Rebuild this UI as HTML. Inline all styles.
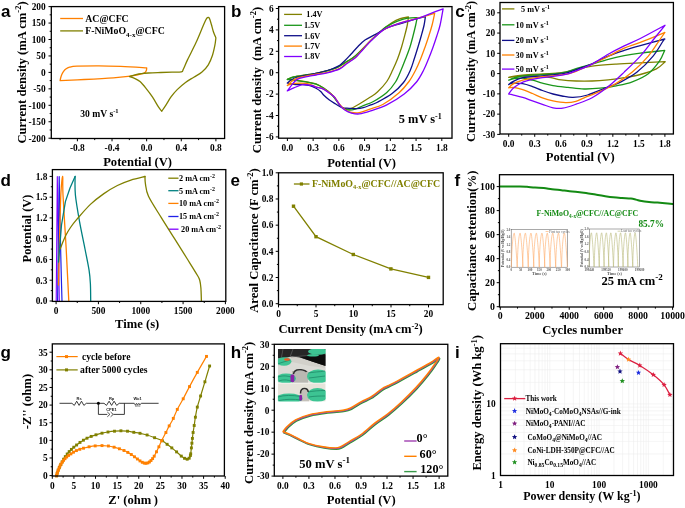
<!DOCTYPE html>
<html><head><meta charset="utf-8"><style>
html,body{margin:0;padding:0;background:#fff;}
svg{display:block;will-change:transform;}
</style></head><body>
<svg width="685" height="508" viewBox="0 0 685 508">
<rect width="685" height="508" fill="#fff"/>
<text x="0.90" y="16.60" font-size="17" text-anchor="start" font-weight="bold" font-family='"Liberation Sans", sans-serif' fill="#000" >a</text>
<path d="M77.40,138.5 v2.8 M112.03,138.5 v2.8 M146.65,138.5 v2.8 M181.28,138.5 v2.8 M215.90,138.5 v2.8 M60.09,138.5 v1.6 M94.71,138.5 v1.6 M129.34,138.5 v1.6 M163.96,138.5 v1.6 M198.59,138.5 v1.6 " stroke="#000" stroke-width="1"/>
<text x="77.40" y="151.20" font-size="9.4" text-anchor="middle" font-weight="bold" font-family='"Liberation Serif", serif' fill="#000" >-0.8</text>
<text x="112.03" y="151.20" font-size="9.4" text-anchor="middle" font-weight="bold" font-family='"Liberation Serif", serif' fill="#000" >-0.4</text>
<text x="146.65" y="151.20" font-size="9.4" text-anchor="middle" font-weight="bold" font-family='"Liberation Serif", serif' fill="#000" >0.0</text>
<text x="181.28" y="151.20" font-size="9.4" text-anchor="middle" font-weight="bold" font-family='"Liberation Serif", serif' fill="#000" >0.4</text>
<text x="215.90" y="151.20" font-size="9.4" text-anchor="middle" font-weight="bold" font-family='"Liberation Serif", serif' fill="#000" >0.8</text>
<path d="M51.3,138.20 h-2.8 M51.3,121.75 h-2.8 M51.3,105.30 h-2.8 M51.3,88.85 h-2.8 M51.3,72.40 h-2.8 M51.3,55.95 h-2.8 M51.3,39.50 h-2.8 M51.3,23.05 h-2.8 M51.3,6.60 h-2.8 M51.3,129.97 h-1.6 M51.3,113.52 h-1.6 M51.3,97.07 h-1.6 M51.3,80.62 h-1.6 M51.3,64.17 h-1.6 M51.3,47.73 h-1.6 M51.3,31.27 h-1.6 M51.3,14.82 h-1.6 " stroke="#000" stroke-width="1"/>
<text x="45.70" y="141.50" font-size="9.4" text-anchor="end" font-weight="bold" font-family='"Liberation Serif", serif' fill="#000" >-200</text>
<text x="45.70" y="125.05" font-size="9.4" text-anchor="end" font-weight="bold" font-family='"Liberation Serif", serif' fill="#000" >-150</text>
<text x="45.70" y="108.60" font-size="9.4" text-anchor="end" font-weight="bold" font-family='"Liberation Serif", serif' fill="#000" >-100</text>
<text x="45.70" y="92.15" font-size="9.4" text-anchor="end" font-weight="bold" font-family='"Liberation Serif", serif' fill="#000" >-50</text>
<text x="45.70" y="75.70" font-size="9.4" text-anchor="end" font-weight="bold" font-family='"Liberation Serif", serif' fill="#000" >0</text>
<text x="45.70" y="59.25" font-size="9.4" text-anchor="end" font-weight="bold" font-family='"Liberation Serif", serif' fill="#000" >50</text>
<text x="45.70" y="42.80" font-size="9.4" text-anchor="end" font-weight="bold" font-family='"Liberation Serif", serif' fill="#000" >100</text>
<text x="45.70" y="26.35" font-size="9.4" text-anchor="end" font-weight="bold" font-family='"Liberation Serif", serif' fill="#000" >150</text>
<text x="45.70" y="9.90" font-size="9.4" text-anchor="end" font-weight="bold" font-family='"Liberation Serif", serif' fill="#000" >200</text>
<text transform="translate(26.00,72.50) rotate(-90)" x="0" y="0" font-size="12.6" text-anchor="middle" font-weight="bold" font-family='"Liberation Serif", serif'>Current density (mA cm<tspan dy="-4.8" font-size="8.5">-2</tspan><tspan dy="4.8">)</tspan></text>
<text x="137.60" y="165.50" font-size="12.6" text-anchor="middle" font-weight="bold" font-family='"Liberation Serif", serif' fill="#000" >Potential (V)</text>
<path d="M60.2,18.5 H83" stroke="#ff8000" stroke-width="1.3"/>
<path d="M60.2,30.9 H83" stroke="#808000" stroke-width="1.3"/>
<text x="85.30" y="22.00" font-size="9.8" text-anchor="start" font-weight="bold" font-family='"Liberation Serif", serif' fill="#000" >AC@CFC</text>
<text x="85.30" y="34.30" font-size="9.8" text-anchor="start" font-weight="bold" font-family='"Liberation Serif", serif' fill="#000" >F-NiMoO<tspan dy="2.5" font-size="7">4-x</tspan><tspan dy="-2.5">@CFC</tspan></text>
<text x="80.30" y="116.50" font-size="9.6" text-anchor="start" font-weight="bold" font-family='"Liberation Serif", serif' fill="#000" >30 mV s<tspan dy="-3.5" font-size="6.5">-1</tspan></text>
<path d="M60.10,80.60 C60.20,80.13 60.42,78.80 60.70,77.80 C60.98,76.80 61.35,75.63 61.80,74.60 C62.25,73.57 62.73,72.53 63.40,71.60 C64.07,70.67 64.78,69.73 65.80,69.00 C66.82,68.27 67.65,67.67 69.50,67.20 C71.35,66.73 72.02,66.43 76.90,66.20 C81.78,65.97 91.50,65.77 98.80,65.80 C106.10,65.83 113.40,66.10 120.70,66.40 C128.00,66.70 138.27,67.33 142.60,67.60 C146.93,67.87 146.02,67.93 146.70,68.00 L146.70,68.00 C146.65,68.38 146.63,69.60 146.40,70.30 C146.17,71.00 145.95,71.63 145.30,72.20 C144.65,72.77 143.92,73.23 142.50,73.70 C141.08,74.17 139.22,74.55 136.80,75.00 C134.38,75.45 131.90,75.93 128.00,76.40 C124.10,76.87 120.70,77.28 113.40,77.80 C106.10,78.32 93.08,79.03 84.20,79.50 C75.32,79.97 64.12,80.42 60.10,80.60 " fill="none" stroke="#ff8000" stroke-width="1.3" stroke-linejoin="round" stroke-linecap="round" />
<path d="M129.50,76.60 C130.72,76.22 133.65,74.90 136.80,74.30 C139.95,73.70 144.42,73.30 148.40,73.00 C152.38,72.70 156.77,72.63 160.70,72.50 C164.63,72.37 168.55,72.32 172.00,72.20 C175.45,72.08 179.52,72.28 181.40,71.80 C183.28,71.32 182.27,71.33 183.30,69.30 C184.33,67.27 185.52,63.97 187.60,59.60 C189.68,55.23 193.40,48.27 195.80,43.10 C198.20,37.93 200.38,32.37 202.00,28.60 C203.62,24.83 204.60,22.33 205.50,20.50 C206.40,18.67 206.77,17.98 207.40,17.60 C208.03,17.22 208.63,17.05 209.30,18.20 C209.97,19.35 210.72,22.25 211.40,24.50 C212.08,26.75 212.65,29.47 213.40,31.70 C214.15,33.93 215.48,36.87 215.90,37.90 L215.90,37.90 C215.73,39.12 215.48,42.27 214.90,45.20 C214.32,48.13 213.50,52.23 212.40,55.50 C211.30,58.77 210.03,62.05 208.30,64.80 C206.57,67.55 204.42,69.93 202.00,72.00 C199.58,74.07 196.55,75.47 193.80,77.20 C191.05,78.93 188.27,80.33 185.50,82.40 C182.73,84.47 179.62,87.18 177.20,89.60 C174.78,92.02 172.88,94.32 171.00,96.90 C169.12,99.48 167.45,102.70 165.90,105.10 C164.35,107.50 162.40,110.27 161.70,111.30 L161.70,111.30 C161.18,110.62 160.15,109.60 158.60,107.20 C157.05,104.80 154.47,100.00 152.40,96.90 C150.33,93.80 148.27,91.15 146.20,88.60 C144.13,86.05 141.95,83.32 140.00,81.60 C138.05,79.88 136.25,79.13 134.50,78.30 C132.75,77.47 130.33,76.88 129.50,76.60 " fill="none" stroke="#808000" stroke-width="1.3" stroke-linejoin="round" stroke-linecap="round" />
<rect x="51.3" y="6.6" width="173.3" height="131.9" fill="none" stroke="#000" stroke-width="1.3"/>
<text x="231.00" y="16.60" font-size="17" text-anchor="start" font-weight="bold" font-family='"Liberation Sans", sans-serif' fill="#000" >b</text>
<path d="M287.40,138.2 v2.8 M313.13,138.2 v2.8 M338.87,138.2 v2.8 M364.60,138.2 v2.8 M390.33,138.2 v2.8 M416.07,138.2 v2.8 M441.80,138.2 v2.8 M300.27,138.2 v1.6 M326.00,138.2 v1.6 M351.73,138.2 v1.6 M377.47,138.2 v1.6 M403.20,138.2 v1.6 M428.93,138.2 v1.6 " stroke="#000" stroke-width="1"/>
<text x="287.40" y="151.20" font-size="9.4" text-anchor="middle" font-weight="bold" font-family='"Liberation Serif", serif' fill="#000" >0.0</text>
<text x="313.13" y="151.20" font-size="9.4" text-anchor="middle" font-weight="bold" font-family='"Liberation Serif", serif' fill="#000" >0.3</text>
<text x="338.87" y="151.20" font-size="9.4" text-anchor="middle" font-weight="bold" font-family='"Liberation Serif", serif' fill="#000" >0.6</text>
<text x="364.60" y="151.20" font-size="9.4" text-anchor="middle" font-weight="bold" font-family='"Liberation Serif", serif' fill="#000" >0.9</text>
<text x="390.33" y="151.20" font-size="9.4" text-anchor="middle" font-weight="bold" font-family='"Liberation Serif", serif' fill="#000" >1.2</text>
<text x="416.07" y="151.20" font-size="9.4" text-anchor="middle" font-weight="bold" font-family='"Liberation Serif", serif' fill="#000" >1.5</text>
<text x="441.80" y="151.20" font-size="9.4" text-anchor="middle" font-weight="bold" font-family='"Liberation Serif", serif' fill="#000" >1.8</text>
<path d="M278.6,136.90 h-2.8 M278.6,115.50 h-2.8 M278.6,94.10 h-2.8 M278.6,72.70 h-2.8 M278.6,51.30 h-2.8 M278.6,29.90 h-2.8 M278.6,8.50 h-2.8 M278.6,126.20 h-1.6 M278.6,104.80 h-1.6 M278.6,83.40 h-1.6 M278.6,62.00 h-1.6 M278.6,40.60 h-1.6 M278.6,19.20 h-1.6 " stroke="#000" stroke-width="1"/>
<text x="273.60" y="140.20" font-size="9.4" text-anchor="end" font-weight="bold" font-family='"Liberation Serif", serif' fill="#000" >-6</text>
<text x="273.60" y="118.80" font-size="9.4" text-anchor="end" font-weight="bold" font-family='"Liberation Serif", serif' fill="#000" >-4</text>
<text x="273.60" y="97.40" font-size="9.4" text-anchor="end" font-weight="bold" font-family='"Liberation Serif", serif' fill="#000" >-2</text>
<text x="273.60" y="76.00" font-size="9.4" text-anchor="end" font-weight="bold" font-family='"Liberation Serif", serif' fill="#000" >0</text>
<text x="273.60" y="54.60" font-size="9.4" text-anchor="end" font-weight="bold" font-family='"Liberation Serif", serif' fill="#000" >2</text>
<text x="273.60" y="33.20" font-size="9.4" text-anchor="end" font-weight="bold" font-family='"Liberation Serif", serif' fill="#000" >4</text>
<text x="273.60" y="11.80" font-size="9.4" text-anchor="end" font-weight="bold" font-family='"Liberation Serif", serif' fill="#000" >6</text>
<text transform="translate(260.60,80.00) rotate(-90)" x="0" y="0" font-size="12.7" text-anchor="middle" font-weight="bold" font-family='"Liberation Serif", serif'>Current density&#160; (mA cm<tspan dy="-4.8" font-size="8.5">-2</tspan><tspan dy="4.8">)</tspan></text>
<text x="361.60" y="167.20" font-size="12.6" text-anchor="middle" font-weight="bold" font-family='"Liberation Serif", serif' fill="#000" >Potential (V)</text>
<path d="M284.1,14.4 H302" stroke="#808000" stroke-width="1.3"/>
<text x="306.30" y="17.20" font-size="8.2" text-anchor="start" font-weight="bold" font-family='"Liberation Serif", serif' fill="#000" >1.4V</text>
<path d="M284.1,25.3 H302" stroke="#1a961a" stroke-width="1.3"/>
<text x="304.00" y="28.10" font-size="8.2" text-anchor="start" font-weight="bold" font-family='"Liberation Serif", serif' fill="#000" >1.5V</text>
<path d="M284.1,35.7 H302" stroke="#10108a" stroke-width="1.3"/>
<text x="304.00" y="38.50" font-size="8.2" text-anchor="start" font-weight="bold" font-family='"Liberation Serif", serif' fill="#000" >1.6V</text>
<path d="M284.1,46.1 H302" stroke="#ff8000" stroke-width="1.3"/>
<text x="304.00" y="48.90" font-size="8.2" text-anchor="start" font-weight="bold" font-family='"Liberation Serif", serif' fill="#000" >1.7V</text>
<path d="M284.1,56.5 H302" stroke="#8000ff" stroke-width="1.3"/>
<text x="304.00" y="59.30" font-size="8.2" text-anchor="start" font-weight="bold" font-family='"Liberation Serif", serif' fill="#000" >1.8V</text>
<text x="398.80" y="123.10" font-size="12.4" text-anchor="start" font-weight="bold" font-family='"Liberation Serif", serif' fill="#000" >5 mV s<tspan dy="-4.5" font-size="8">-1</tspan></text>
<path d="M287.30,79.30 C288.38,78.90 290.73,77.63 293.80,76.90 C296.87,76.17 302.00,75.50 305.70,74.90 C309.40,74.30 312.42,74.00 316.00,73.30 C319.58,72.60 323.75,71.65 327.20,70.70 C330.65,69.75 333.55,69.05 336.70,67.60 C339.85,66.15 342.95,63.98 346.10,62.00 C349.25,60.02 351.92,58.85 355.60,55.70 C359.28,52.55 364.97,46.30 368.20,43.10 C371.43,39.90 372.58,38.75 375.00,36.50 C377.42,34.25 379.97,31.83 382.70,29.60 C385.43,27.37 388.48,24.92 391.40,23.10 C394.32,21.28 397.37,19.72 400.20,18.70 C403.03,17.68 407.03,17.28 408.40,17.00 L408.40,17.00 C408.22,18.33 407.93,21.83 407.30,25.00 C406.67,28.17 405.57,32.30 404.60,36.00 C403.63,39.70 402.68,43.37 401.50,47.20 C400.32,51.03 398.97,55.20 397.50,59.00 C396.03,62.80 394.48,66.25 392.70,70.00 C390.92,73.75 389.35,77.83 386.80,81.50 C384.25,85.17 380.20,89.37 377.40,92.00 C374.60,94.63 373.02,95.30 370.00,97.30 C366.98,99.30 362.38,102.17 359.30,104.00 C356.22,105.83 353.47,107.45 351.50,108.30 C349.53,109.15 349.08,109.28 347.50,109.10 C345.92,108.92 343.70,108.45 342.00,107.20 C340.30,105.95 339.00,103.72 337.30,101.60 C335.60,99.48 334.03,96.73 331.80,94.50 C329.57,92.27 326.53,89.97 323.90,88.20 C321.27,86.43 319.03,84.98 316.00,83.90 C312.97,82.82 309.40,82.37 305.70,81.70 C302.00,81.03 296.87,80.30 293.80,79.90 C290.73,79.50 288.38,79.40 287.30,79.30 " fill="none" stroke="#808000" stroke-width="1.3" stroke-linejoin="round" stroke-linecap="round" />
<path d="M287.30,79.50 C288.38,79.08 290.73,77.75 293.80,77.00 C296.87,76.25 302.00,75.60 305.70,75.00 C309.40,74.40 312.42,74.10 316.00,73.40 C319.58,72.70 323.75,71.75 327.20,70.80 C330.65,69.85 333.55,69.15 336.70,67.70 C339.85,66.25 342.95,64.08 346.10,62.10 C349.25,60.12 351.92,58.95 355.60,55.80 C359.28,52.65 364.97,46.40 368.20,43.20 C371.43,40.00 372.58,38.85 375.00,36.60 C377.42,34.35 380.87,31.32 382.70,29.70 C384.53,28.08 383.63,28.28 386.00,26.90 C388.37,25.52 393.25,22.87 396.90,21.40 C400.55,19.93 404.52,18.73 407.90,18.10 C411.28,17.47 415.65,17.68 417.20,17.60 L417.20,17.60 C416.95,18.83 416.40,21.93 415.70,25.00 C415.00,28.07 413.97,32.30 413.00,36.00 C412.03,39.70 411.15,43.37 409.90,47.20 C408.65,51.03 406.97,55.20 405.50,59.00 C404.03,62.80 402.77,66.17 401.10,70.00 C399.43,73.83 397.88,78.25 395.50,82.00 C393.12,85.75 390.48,89.25 386.80,92.50 C383.12,95.75 377.32,99.32 373.40,101.50 C369.48,103.68 366.30,104.33 363.30,105.60 C360.30,106.87 358.03,108.38 355.40,109.10 C352.77,109.82 349.73,110.17 347.50,109.90 C345.27,109.63 343.70,108.85 342.00,107.50 C340.30,106.15 339.00,103.93 337.30,101.80 C335.60,99.67 334.03,96.93 331.80,94.70 C329.57,92.47 326.53,90.17 323.90,88.40 C321.27,86.63 319.03,85.18 316.00,84.10 C312.97,83.02 309.40,82.57 305.70,81.90 C302.00,81.23 296.87,80.50 293.80,80.10 C290.73,79.70 288.38,79.60 287.30,79.50 " fill="none" stroke="#1a961a" stroke-width="1.3" stroke-linejoin="round" stroke-linecap="round" />
<path d="M287.30,83.00 C287.92,82.50 289.55,80.92 291.00,80.00 C292.45,79.08 293.55,78.28 296.00,77.50 C298.45,76.72 302.37,75.97 305.70,75.30 C309.03,74.63 312.42,74.30 316.00,73.50 C319.58,72.70 324.37,71.33 327.20,70.50 C330.03,69.67 330.90,69.38 333.00,68.50 C335.10,67.62 337.80,66.53 339.80,65.20 C341.80,63.87 343.15,62.33 345.00,60.50 C346.85,58.67 348.73,56.53 350.90,54.20 C353.07,51.87 355.65,48.87 358.00,46.50 C360.35,44.13 362.17,41.98 365.00,40.00 C367.83,38.02 371.50,36.52 375.00,34.60 C378.50,32.68 382.35,30.15 386.00,28.50 C389.65,26.85 393.25,25.88 396.90,24.70 C400.55,23.52 404.25,22.50 407.90,21.40 C411.55,20.30 415.88,18.92 418.80,18.10 C421.72,17.28 424.30,16.77 425.40,16.50 L425.40,16.50 C425.18,17.92 424.80,21.75 424.10,25.00 C423.40,28.25 422.23,32.30 421.20,36.00 C420.17,39.70 419.07,43.37 417.90,47.20 C416.73,51.03 415.45,55.20 414.20,59.00 C412.95,62.80 412.18,66.08 410.40,70.00 C408.62,73.92 406.55,78.58 403.50,82.50 C400.45,86.42 396.45,90.22 392.10,93.50 C387.75,96.78 381.08,100.25 377.40,102.20 C373.72,104.15 372.35,104.30 370.00,105.20 C367.65,106.10 365.47,107.02 363.30,107.60 C361.13,108.18 359.37,108.58 357.00,108.70 C354.63,108.82 351.60,108.48 349.10,108.30 C346.60,108.12 344.23,108.32 342.00,107.60 C339.77,106.88 337.80,105.25 335.70,104.00 C333.60,102.75 331.37,101.55 329.40,100.10 C327.43,98.65 325.35,96.75 323.90,95.30 C322.45,93.85 322.02,92.58 320.70,91.40 C319.38,90.22 317.78,89.18 316.00,88.20 C314.22,87.22 312.22,86.12 310.00,85.50 C307.78,84.88 305.03,84.67 302.70,84.50 C300.37,84.33 297.95,84.58 296.00,84.50 C294.05,84.42 292.45,84.25 291.00,84.00 C289.55,83.75 287.92,83.17 287.30,83.00 " fill="none" stroke="#10108a" stroke-width="1.3" stroke-linejoin="round" stroke-linecap="round" />
<path d="M287.30,85.50 C287.90,84.92 289.32,83.18 290.90,82.00 C292.48,80.82 294.33,79.38 296.80,78.40 C299.27,77.42 302.50,76.80 305.70,76.10 C308.90,75.40 312.42,74.83 316.00,74.20 C319.58,73.57 323.23,73.28 327.20,72.30 C331.17,71.32 336.50,69.85 339.80,68.30 C343.10,66.75 344.37,64.83 347.00,63.00 C349.63,61.17 352.93,59.63 355.60,57.30 C358.27,54.97 360.38,51.88 363.00,49.00 C365.62,46.12 367.83,43.20 371.30,40.00 C374.77,36.80 379.53,32.43 383.80,29.80 C388.07,27.17 392.88,25.68 396.90,24.20 C400.92,22.72 404.25,21.95 407.90,20.90 C411.55,19.85 415.45,18.80 418.80,17.90 C422.15,17.00 425.35,16.28 428.00,15.50 C430.65,14.72 433.58,13.58 434.70,13.20 L434.70,13.20 C434.27,15.17 433.08,21.20 432.10,25.00 C431.12,28.80 429.98,32.30 428.80,36.00 C427.62,39.70 426.37,43.37 425.00,47.20 C423.63,51.03 422.15,55.20 420.60,59.00 C419.05,62.80 417.63,66.25 415.70,70.00 C413.77,73.75 411.82,77.67 409.00,81.50 C406.18,85.33 403.17,89.17 398.80,93.00 C394.43,96.83 387.60,101.82 382.80,104.50 C378.00,107.18 373.92,107.73 370.00,109.10 C366.08,110.47 362.38,112.13 359.30,112.70 C356.22,113.27 353.85,112.98 351.50,112.50 C349.15,112.02 347.18,111.13 345.20,109.80 C343.22,108.47 341.32,106.55 339.60,104.50 C337.88,102.45 336.20,99.13 334.90,97.50 C333.60,95.87 333.63,96.08 331.80,94.70 C329.97,93.32 326.53,90.52 323.90,89.20 C321.27,87.88 318.55,87.70 316.00,86.80 C313.45,85.90 311.30,84.40 308.60,83.80 C305.90,83.20 302.75,83.17 299.80,83.20 C296.85,83.23 292.98,83.62 290.90,84.00 C288.82,84.38 287.90,85.25 287.30,85.50 " fill="none" stroke="#ff8000" stroke-width="1.3" stroke-linejoin="round" stroke-linecap="round" />
<path d="M287.30,90.90 C287.90,90.10 289.32,87.98 290.90,86.10 C292.48,84.22 294.33,81.13 296.80,79.60 C299.27,78.07 302.50,77.67 305.70,76.90 C308.90,76.13 312.42,75.68 316.00,75.00 C319.58,74.32 323.23,73.83 327.20,72.80 C331.17,71.77 336.50,70.35 339.80,68.80 C343.10,67.25 344.37,65.38 347.00,63.50 C349.63,61.62 352.93,59.83 355.60,57.50 C358.27,55.17 360.38,52.33 363.00,49.50 C365.62,46.67 367.83,43.82 371.30,40.50 C374.77,37.18 379.53,32.32 383.80,29.60 C388.07,26.88 392.88,25.65 396.90,24.20 C400.92,22.75 404.25,21.92 407.90,20.90 C411.55,19.88 415.15,19.28 418.80,18.10 C422.45,16.92 425.75,15.35 429.80,13.80 C433.85,12.25 440.88,9.63 443.10,8.80 L443.10,8.80 C442.60,11.50 441.15,20.47 440.10,25.00 C439.05,29.53 437.98,32.30 436.80,36.00 C435.62,39.70 434.38,43.37 433.00,47.20 C431.62,51.03 430.05,55.20 428.50,59.00 C426.95,62.80 425.70,66.17 423.70,70.00 C421.70,73.83 419.75,78.00 416.50,82.00 C413.25,86.00 409.15,90.18 404.20,94.00 C399.25,97.82 392.38,102.08 386.80,104.90 C381.22,107.72 375.28,109.40 370.70,110.90 C366.12,112.40 362.50,113.53 359.30,113.90 C356.10,114.27 353.85,113.70 351.50,113.10 C349.15,112.50 347.18,111.68 345.20,110.30 C343.22,108.92 341.32,106.90 339.60,104.80 C337.88,102.70 336.20,99.35 334.90,97.70 C333.60,96.05 333.63,96.28 331.80,94.90 C329.97,93.52 326.53,90.70 323.90,89.40 C321.27,88.10 318.05,87.75 316.00,87.10 C313.95,86.45 313.82,85.92 311.60,85.50 C309.38,85.08 305.67,84.20 302.70,84.60 C299.73,85.00 296.37,86.85 293.80,87.90 C291.23,88.95 288.38,90.40 287.30,90.90 " fill="none" stroke="#8000ff" stroke-width="1.3" stroke-linejoin="round" stroke-linecap="round" />
<rect x="278.6" y="6.6" width="173.39999999999998" height="131.6" fill="none" stroke="#000" stroke-width="1.3"/>
<text x="455.30" y="16.70" font-size="17" text-anchor="start" font-weight="bold" font-family='"Liberation Sans", sans-serif' fill="#000" >c</text>
<path d="M508.70,134.0 v2.8 M534.73,134.0 v2.8 M560.77,134.0 v2.8 M586.80,134.0 v2.8 M612.83,134.0 v2.8 M638.87,134.0 v2.8 M664.90,134.0 v2.8 M521.72,134.0 v1.6 M547.75,134.0 v1.6 M573.78,134.0 v1.6 M599.82,134.0 v1.6 M625.85,134.0 v1.6 M651.88,134.0 v1.6 " stroke="#000" stroke-width="1"/>
<text x="508.70" y="146.90" font-size="9.4" text-anchor="middle" font-weight="bold" font-family='"Liberation Serif", serif' fill="#000" >0.0</text>
<text x="534.73" y="146.90" font-size="9.4" text-anchor="middle" font-weight="bold" font-family='"Liberation Serif", serif' fill="#000" >0.3</text>
<text x="560.77" y="146.90" font-size="9.4" text-anchor="middle" font-weight="bold" font-family='"Liberation Serif", serif' fill="#000" >0.6</text>
<text x="586.80" y="146.90" font-size="9.4" text-anchor="middle" font-weight="bold" font-family='"Liberation Serif", serif' fill="#000" >0.9</text>
<text x="612.83" y="146.90" font-size="9.4" text-anchor="middle" font-weight="bold" font-family='"Liberation Serif", serif' fill="#000" >1.2</text>
<text x="638.87" y="146.90" font-size="9.4" text-anchor="middle" font-weight="bold" font-family='"Liberation Serif", serif' fill="#000" >1.5</text>
<text x="664.90" y="146.90" font-size="9.4" text-anchor="middle" font-weight="bold" font-family='"Liberation Serif", serif' fill="#000" >1.8</text>
<path d="M500,134.40 h-2.8 M500,114.13 h-2.8 M500,93.87 h-2.8 M500,73.60 h-2.8 M500,53.33 h-2.8 M500,33.07 h-2.8 M500,12.80 h-2.8 M500,124.27 h-1.6 M500,104.00 h-1.6 M500,83.73 h-1.6 M500,63.47 h-1.6 M500,43.20 h-1.6 M500,22.93 h-1.6 " stroke="#000" stroke-width="1"/>
<text x="495.20" y="137.70" font-size="9.4" text-anchor="end" font-weight="bold" font-family='"Liberation Serif", serif' fill="#000" >-30</text>
<text x="495.20" y="117.43" font-size="9.4" text-anchor="end" font-weight="bold" font-family='"Liberation Serif", serif' fill="#000" >-20</text>
<text x="495.20" y="97.17" font-size="9.4" text-anchor="end" font-weight="bold" font-family='"Liberation Serif", serif' fill="#000" >-10</text>
<text x="495.20" y="76.90" font-size="9.4" text-anchor="end" font-weight="bold" font-family='"Liberation Serif", serif' fill="#000" >0</text>
<text x="495.20" y="56.63" font-size="9.4" text-anchor="end" font-weight="bold" font-family='"Liberation Serif", serif' fill="#000" >10</text>
<text x="495.20" y="36.37" font-size="9.4" text-anchor="end" font-weight="bold" font-family='"Liberation Serif", serif' fill="#000" >20</text>
<text x="495.20" y="16.10" font-size="9.4" text-anchor="end" font-weight="bold" font-family='"Liberation Serif", serif' fill="#000" >30</text>
<text transform="translate(475.40,71.40) rotate(-90)" x="0" y="0" font-size="12.5" text-anchor="middle" font-weight="bold" font-family='"Liberation Serif", serif'>Current density (mA cm<tspan dy="-4.8" font-size="8.5">-2</tspan><tspan dy="4.8">)</tspan></text>
<text x="580.20" y="160.50" font-size="12.6" text-anchor="middle" font-weight="bold" font-family='"Liberation Serif", serif' fill="#000" >Potential (V)</text>
<path d="M502,8.9 H514.4" stroke="#808000" stroke-width="1.3"/>
<text x="521.00" y="11.70" font-size="8.2" text-anchor="start" font-weight="bold" font-family='"Liberation Serif", serif' fill="#000" >5 mV s<tspan dy="-3" font-size="6">-1</tspan></text>
<path d="M502,24.8 H514.4" stroke="#1a961a" stroke-width="1.3"/>
<text x="515.60" y="27.60" font-size="8.2" text-anchor="start" font-weight="bold" font-family='"Liberation Serif", serif' fill="#000" >10 mV s<tspan dy="-3" font-size="6">-1</tspan></text>
<path d="M502,40.4 H514.4" stroke="#10108a" stroke-width="1.3"/>
<text x="515.60" y="43.20" font-size="8.2" text-anchor="start" font-weight="bold" font-family='"Liberation Serif", serif' fill="#000" >20 mV s<tspan dy="-3" font-size="6">-1</tspan></text>
<path d="M502,55 H514.4" stroke="#ff8000" stroke-width="1.3"/>
<text x="515.60" y="57.80" font-size="8.2" text-anchor="start" font-weight="bold" font-family='"Liberation Serif", serif' fill="#000" >30 mV s<tspan dy="-3" font-size="6">-1</tspan></text>
<path d="M502,69.1 H514.4" stroke="#8000ff" stroke-width="1.3"/>
<text x="515.60" y="71.90" font-size="8.2" text-anchor="start" font-weight="bold" font-family='"Liberation Serif", serif' fill="#000" >50 mV s<tspan dy="-3" font-size="6">-1</tspan></text>
<path d="M508.70,77.30 C510.22,77.02 513.83,76.10 517.80,75.60 C521.77,75.10 526.63,74.67 532.50,74.30 C538.37,73.93 547.58,73.75 553.00,73.40 C558.42,73.05 561.15,72.87 565.00,72.20 C568.85,71.53 571.58,70.40 576.10,69.40 C580.62,68.40 585.42,67.08 592.10,66.20 C598.78,65.32 608.17,64.67 616.20,64.10 C624.23,63.53 632.13,63.20 640.30,62.80 C648.47,62.40 661.05,61.88 665.20,61.70 L665.20,61.70 C663.73,62.90 660.55,66.77 656.40,68.90 C652.25,71.03 645.67,73.03 640.30,74.50 C634.93,75.97 629.55,76.82 624.20,77.70 C618.85,78.58 613.55,79.25 608.20,79.80 C602.85,80.35 597.45,80.80 592.10,81.00 C586.75,81.20 581.23,81.18 576.10,81.00 C570.97,80.82 565.47,80.45 561.30,79.90 C557.13,79.35 555.23,78.35 551.10,77.70 C546.97,77.05 541.37,76.25 536.50,76.00 C531.63,75.75 526.53,75.98 521.90,76.20 C517.27,76.42 510.90,77.12 508.70,77.30 " fill="none" stroke="#808000" stroke-width="1.3" stroke-linejoin="round" stroke-linecap="round" />
<path d="M508.70,80.20 C509.72,79.78 511.65,78.52 514.80,77.70 C517.95,76.88 521.23,75.92 527.60,75.30 C533.97,74.68 546.65,74.52 553.00,74.00 C559.35,73.48 561.85,73.10 565.70,72.20 C569.55,71.30 571.70,69.95 576.10,68.60 C580.50,67.25 586.75,65.65 592.10,64.10 C597.45,62.55 602.85,60.70 608.20,59.30 C613.55,57.90 618.85,56.72 624.20,55.70 C629.55,54.68 633.55,54.08 640.30,53.20 C647.05,52.32 660.63,50.87 664.70,50.40 L664.70,50.40 C663.85,52.15 662.33,57.02 659.60,60.90 C656.87,64.78 652.85,70.22 648.30,73.70 C643.75,77.18 637.65,79.78 632.30,81.80 C626.95,83.82 621.57,84.73 616.20,85.80 C610.83,86.87 605.45,87.67 600.10,88.20 C594.75,88.73 589.45,89.13 584.10,89.00 C578.75,88.87 573.18,87.97 568.00,87.40 C562.82,86.83 557.27,86.30 553.00,85.60 C548.73,84.90 545.82,84.10 542.40,83.20 C538.98,82.30 535.78,81.03 532.50,80.20 C529.22,79.37 525.78,78.47 522.70,78.20 C519.62,77.93 516.33,78.27 514.00,78.60 C511.67,78.93 509.58,79.93 508.70,80.20 " fill="none" stroke="#1a961a" stroke-width="1.3" stroke-linejoin="round" stroke-linecap="round" />
<path d="M508.70,84.60 C509.38,84.12 510.47,82.85 512.80,81.70 C515.13,80.55 517.77,78.68 522.70,77.70 C527.63,76.72 537.35,76.28 542.40,75.80 C547.45,75.32 549.12,75.23 553.00,74.80 C556.88,74.37 561.15,74.30 565.70,73.20 C570.25,72.10 575.90,69.77 580.30,68.20 C584.70,66.63 587.45,65.82 592.10,63.80 C596.75,61.78 602.85,58.33 608.20,56.10 C613.55,53.87 618.85,52.15 624.20,50.40 C629.55,48.65 633.53,47.50 640.30,45.60 C647.07,43.70 660.72,40.10 664.80,39.00 L664.80,39.00 C664.47,39.42 664.75,38.65 662.80,41.50 C660.85,44.35 657.38,51.00 653.10,56.10 C648.82,61.20 642.45,67.82 637.10,72.10 C631.75,76.38 626.35,79.12 621.00,81.80 C615.65,84.48 610.57,86.00 605.00,88.20 C599.43,90.40 592.93,93.47 587.60,95.00 C582.27,96.53 577.27,97.23 573.00,97.40 C568.73,97.57 565.33,96.57 562.00,96.00 C558.67,95.43 556.27,94.92 553.00,94.00 C549.73,93.08 545.82,91.73 542.40,90.50 C538.98,89.27 535.78,87.73 532.50,86.60 C529.22,85.47 525.98,84.27 522.70,83.70 C519.42,83.13 515.13,83.05 512.80,83.20 C510.47,83.35 509.38,84.37 508.70,84.60 " fill="none" stroke="#10108a" stroke-width="1.3" stroke-linejoin="round" stroke-linecap="round" />
<path d="M508.70,87.80 C509.38,87.18 510.47,85.37 512.80,84.10 C515.13,82.83 518.60,81.33 522.70,80.20 C526.80,79.07 532.35,78.03 537.40,77.30 C542.45,76.57 547.55,76.45 553.00,75.80 C558.45,75.15 564.82,74.78 570.10,73.40 C575.38,72.02 579.72,69.65 584.70,67.50 C589.68,65.35 596.08,62.33 600.00,60.50 C603.92,58.67 604.17,58.55 608.20,56.50 C612.23,54.45 618.85,50.55 624.20,48.20 C629.55,45.85 633.52,45.03 640.30,42.40 C647.08,39.77 660.80,34.07 664.90,32.40 L664.90,32.40 C664.02,33.67 662.37,36.05 659.60,40.00 C656.83,43.95 652.85,50.75 648.30,56.10 C643.75,61.45 637.65,67.55 632.30,72.10 C626.95,76.65 621.57,80.18 616.20,83.40 C610.83,86.62 605.45,89.00 600.10,91.40 C594.75,93.80 588.13,96.13 584.10,97.80 C580.07,99.47 578.97,100.60 575.90,101.40 C572.83,102.20 569.52,102.68 565.70,102.60 C561.88,102.52 556.88,101.68 553.00,100.90 C549.12,100.12 545.82,99.13 542.40,97.90 C538.98,96.67 535.78,94.88 532.50,93.50 C529.22,92.12 525.65,90.58 522.70,89.60 C519.75,88.62 517.13,87.90 514.80,87.60 C512.47,87.30 509.72,87.77 508.70,87.80 " fill="none" stroke="#ff8000" stroke-width="1.3" stroke-linejoin="round" stroke-linecap="round" />
<path d="M508.70,94.00 C509.38,93.10 510.97,90.32 512.80,88.60 C514.63,86.88 517.23,85.02 519.70,83.70 C522.17,82.38 523.82,81.70 527.60,80.70 C531.38,79.70 538.17,78.43 542.40,77.70 C546.63,76.97 549.12,76.85 553.00,76.30 C556.88,75.75 561.15,75.58 565.70,74.40 C570.25,73.22 575.90,70.92 580.30,69.20 C584.70,67.48 587.45,66.60 592.10,64.10 C596.75,61.60 602.85,57.25 608.20,54.20 C613.55,51.15 618.85,48.42 624.20,45.80 C629.55,43.18 633.50,41.92 640.30,38.50 C647.10,35.08 660.88,27.50 665.00,25.30 L665.00,25.30 C663.02,27.75 657.22,34.87 653.10,40.00 C648.98,45.13 645.12,50.75 640.30,56.10 C635.48,61.45 629.55,67.02 624.20,72.10 C618.85,77.18 613.55,82.32 608.20,86.60 C602.85,90.88 597.45,94.87 592.10,97.80 C586.75,100.73 580.98,102.47 576.10,104.20 C571.22,105.93 566.65,107.60 562.80,108.20 C558.95,108.80 556.40,108.45 553.00,107.80 C549.60,107.15 545.82,105.45 542.40,104.30 C538.98,103.15 535.78,102.05 532.50,100.90 C529.22,99.75 525.98,98.40 522.70,97.40 C519.42,96.40 515.13,95.47 512.80,94.90 C510.47,94.33 509.38,94.15 508.70,94.00 " fill="none" stroke="#8000ff" stroke-width="1.3" stroke-linejoin="round" stroke-linecap="round" />
<rect x="500" y="2.5" width="173.39999999999998" height="131.5" fill="none" stroke="#000" stroke-width="1.3"/>
<text x="0.40" y="185.60" font-size="17" text-anchor="start" font-weight="bold" font-family='"Liberation Sans", sans-serif' fill="#000" >d</text>
<path d="M56.10,301.4 v2.8 M98.43,301.4 v2.8 M140.75,301.4 v2.8 M183.08,301.4 v2.8 M225.40,301.4 v2.8 M77.26,301.4 v1.6 M119.59,301.4 v1.6 M161.91,301.4 v1.6 M204.24,301.4 v1.6 " stroke="#000" stroke-width="1"/>
<text x="56.10" y="313.60" font-size="9.4" text-anchor="middle" font-weight="bold" font-family='"Liberation Serif", serif' fill="#000" >0</text>
<text x="98.43" y="313.60" font-size="9.4" text-anchor="middle" font-weight="bold" font-family='"Liberation Serif", serif' fill="#000" >500</text>
<text x="140.75" y="313.60" font-size="9.4" text-anchor="middle" font-weight="bold" font-family='"Liberation Serif", serif' fill="#000" >1000</text>
<text x="183.08" y="313.60" font-size="9.4" text-anchor="middle" font-weight="bold" font-family='"Liberation Serif", serif' fill="#000" >1500</text>
<text x="225.40" y="313.60" font-size="9.4" text-anchor="middle" font-weight="bold" font-family='"Liberation Serif", serif' fill="#000" >2000</text>
<path d="M52.4,301.00 h-2.8 M52.4,280.23 h-2.8 M52.4,259.47 h-2.8 M52.4,238.70 h-2.8 M52.4,217.93 h-2.8 M52.4,197.17 h-2.8 M52.4,176.40 h-2.8 M52.4,290.62 h-1.6 M52.4,269.85 h-1.6 M52.4,249.08 h-1.6 M52.4,228.32 h-1.6 M52.4,207.55 h-1.6 M52.4,186.78 h-1.6 " stroke="#000" stroke-width="1"/>
<text x="47.40" y="304.30" font-size="9.4" text-anchor="end" font-weight="bold" font-family='"Liberation Serif", serif' fill="#000" >0.0</text>
<text x="47.40" y="283.53" font-size="9.4" text-anchor="end" font-weight="bold" font-family='"Liberation Serif", serif' fill="#000" >0.3</text>
<text x="47.40" y="262.77" font-size="9.4" text-anchor="end" font-weight="bold" font-family='"Liberation Serif", serif' fill="#000" >0.6</text>
<text x="47.40" y="242.00" font-size="9.4" text-anchor="end" font-weight="bold" font-family='"Liberation Serif", serif' fill="#000" >0.9</text>
<text x="47.40" y="221.23" font-size="9.4" text-anchor="end" font-weight="bold" font-family='"Liberation Serif", serif' fill="#000" >1.2</text>
<text x="47.40" y="200.47" font-size="9.4" text-anchor="end" font-weight="bold" font-family='"Liberation Serif", serif' fill="#000" >1.5</text>
<text x="47.40" y="179.70" font-size="9.4" text-anchor="end" font-weight="bold" font-family='"Liberation Serif", serif' fill="#000" >1.8</text>
<text transform="translate(30.60,228.50) rotate(-90)" x="0" y="0" font-size="12.4" text-anchor="middle" font-weight="bold" font-family='"Liberation Serif", serif'>Potential (V)</text>
<text x="137.20" y="327.70" font-size="12.6" text-anchor="middle" font-weight="bold" font-family='"Liberation Serif", serif' fill="#000" >Time (s)</text>
<path d="M168.3,178.2 H178.5" stroke="#808000" stroke-width="1.3"/>
<text x="179.00" y="181.00" font-size="8.2" text-anchor="start" font-weight="bold" font-family='"Liberation Serif", serif' fill="#000" >2 mA cm<tspan dy="-3" font-size="6">-2</tspan></text>
<path d="M168.3,190.7 H178.5" stroke="#008080" stroke-width="1.3"/>
<text x="179.00" y="193.50" font-size="8.2" text-anchor="start" font-weight="bold" font-family='"Liberation Serif", serif' fill="#000" >5 mA cm<tspan dy="-3" font-size="6">-2</tspan></text>
<path d="M168.3,203.4 H178.5" stroke="#ff8000" stroke-width="1.3"/>
<text x="179.00" y="206.20" font-size="8.2" text-anchor="start" font-weight="bold" font-family='"Liberation Serif", serif' fill="#000" >10 mA cm<tspan dy="-3" font-size="6">-2</tspan></text>
<path d="M168.3,216.5 H178.5" stroke="#2020e8" stroke-width="1.3"/>
<text x="179.00" y="219.30" font-size="8.2" text-anchor="start" font-weight="bold" font-family='"Liberation Serif", serif' fill="#000" >15 mA cm<tspan dy="-3" font-size="6">-2</tspan></text>
<path d="M168.3,229.2 H178.5" stroke="#8000ff" stroke-width="1.3"/>
<text x="181.10" y="232.00" font-size="8.2" text-anchor="start" font-weight="bold" font-family='"Liberation Serif", serif' fill="#000" >20 mA cm<tspan dy="-3" font-size="6">-2</tspan></text>
<path d="M56.2,301 L57.3,176.6 L59.3,301" fill="none" stroke="#8000ff" stroke-width="1.1" stroke-linejoin="round"/>
<path d="M57.6,301 L59.2,176.6 Q60.2,240 62.0,301" fill="none" stroke="#2020e8" stroke-width="1.2" stroke-linejoin="round"/>
<path d="M58.50,285.00 C58.67,277.50 59.10,255.28 59.50,240.00 C59.90,224.72 60.37,203.90 60.90,193.30 C61.43,182.70 62.35,176.12 62.70,176.40 C63.05,176.68 62.42,182.90 63.00,195.00 C63.58,207.10 65.33,233.33 66.20,249.00 C67.07,264.67 67.77,280.33 68.20,289.00 C68.63,297.67 68.70,299.00 68.80,301.00" fill="none" stroke="#ff8000" stroke-width="1.3" stroke-linejoin="round" stroke-linecap="round" />
<path d="M58.50,262.00 L61.50,225.00 L65.40,201.60 L70.00,188.00 L75.10,176.40" fill="none" stroke="#008080" stroke-width="1.3" stroke-linejoin="round" stroke-linecap="round" />
<path d="M75.10,176.40 C75.15,179.50 74.65,187.42 75.40,195.00 C76.15,202.58 78.00,212.90 79.60,221.90 C81.20,230.90 83.42,240.92 85.00,249.00 C86.58,257.08 88.20,264.57 89.10,270.40 C90.00,276.23 90.13,278.90 90.40,284.00 C90.67,289.10 90.65,298.17 90.70,301.00" fill="none" stroke="#008080" stroke-width="1.3" stroke-linejoin="round" stroke-linecap="round" />
<path d="M60.20,249.00 C60.58,248.00 61.53,245.33 62.50,243.00 C63.47,240.67 64.67,237.58 66.00,235.00 C67.33,232.42 68.67,230.13 70.50,227.50 C72.33,224.87 73.68,223.05 77.00,219.20 C80.32,215.35 85.92,208.67 90.40,204.40 C94.88,200.13 99.40,196.75 103.90,193.60 C108.40,190.45 112.90,187.75 117.40,185.50 C121.90,183.25 126.30,181.60 130.90,180.10 C135.50,178.60 142.65,177.10 145.00,176.50" fill="none" stroke="#808000" stroke-width="1.3" stroke-linejoin="round" stroke-linecap="round" />
<path d="M145.00,176.50 C145.07,177.68 144.82,180.30 145.40,183.60 C145.98,186.90 145.85,190.63 148.50,196.30 C151.15,201.97 156.93,210.50 161.30,217.60 C165.67,224.70 170.42,232.08 174.70,238.90 C178.98,245.72 183.20,252.40 187.00,258.50 C190.80,264.60 195.37,271.83 197.50,275.50 C199.63,279.17 199.23,278.42 199.80,280.50 C200.37,282.58 200.63,284.58 200.90,288.00 C201.17,291.42 201.32,298.83 201.40,301.00" fill="none" stroke="#808000" stroke-width="1.3" stroke-linejoin="round" stroke-linecap="round" />
<rect x="52.4" y="169.6" width="173.4" height="131.79999999999998" fill="none" stroke="#000" stroke-width="1.3"/>
<text x="230.40" y="185.60" font-size="17" text-anchor="start" font-weight="bold" font-family='"Liberation Sans", sans-serif' fill="#000" >e</text>
<path d="M278.50,304.6 v2.8 M316.00,304.6 v2.8 M353.50,304.6 v2.8 M391.00,304.6 v2.8 M428.50,304.6 v2.8 M297.25,304.6 v1.6 M334.75,304.6 v1.6 M372.25,304.6 v1.6 M409.75,304.6 v1.6 " stroke="#000" stroke-width="1"/>
<text x="278.50" y="317.00" font-size="9.4" text-anchor="middle" font-weight="bold" font-family='"Liberation Serif", serif' fill="#000" >0</text>
<text x="316.00" y="317.00" font-size="9.4" text-anchor="middle" font-weight="bold" font-family='"Liberation Serif", serif' fill="#000" >5</text>
<text x="353.50" y="317.00" font-size="9.4" text-anchor="middle" font-weight="bold" font-family='"Liberation Serif", serif' fill="#000" >10</text>
<text x="391.00" y="317.00" font-size="9.4" text-anchor="middle" font-weight="bold" font-family='"Liberation Serif", serif' fill="#000" >15</text>
<text x="428.50" y="317.00" font-size="9.4" text-anchor="middle" font-weight="bold" font-family='"Liberation Serif", serif' fill="#000" >20</text>
<path d="M278.5,303.70 h-2.8 M278.5,277.52 h-2.8 M278.5,251.34 h-2.8 M278.5,225.16 h-2.8 M278.5,198.98 h-2.8 M278.5,172.80 h-2.8 M278.5,290.61 h-1.6 M278.5,264.43 h-1.6 M278.5,238.25 h-1.6 M278.5,212.07 h-1.6 M278.5,185.89 h-1.6 " stroke="#000" stroke-width="1"/>
<text x="273.40" y="307.00" font-size="9.4" text-anchor="end" font-weight="bold" font-family='"Liberation Serif", serif' fill="#000" >0.0</text>
<text x="273.40" y="280.82" font-size="9.4" text-anchor="end" font-weight="bold" font-family='"Liberation Serif", serif' fill="#000" >0.2</text>
<text x="273.40" y="254.64" font-size="9.4" text-anchor="end" font-weight="bold" font-family='"Liberation Serif", serif' fill="#000" >0.4</text>
<text x="273.40" y="228.46" font-size="9.4" text-anchor="end" font-weight="bold" font-family='"Liberation Serif", serif' fill="#000" >0.6</text>
<text x="273.40" y="202.28" font-size="9.4" text-anchor="end" font-weight="bold" font-family='"Liberation Serif", serif' fill="#000" >0.8</text>
<text x="273.40" y="176.10" font-size="9.4" text-anchor="end" font-weight="bold" font-family='"Liberation Serif", serif' fill="#000" >1.0</text>
<text transform="translate(257.90,240.50) rotate(-90)" x="0" y="0" font-size="12.6" text-anchor="middle" font-weight="bold" font-family='"Liberation Serif", serif'>Areal Capacitance (F cm<tspan dy="-4.8" font-size="8.5">-2</tspan><tspan dy="4.8">)</tspan></text>
<text x="278.40" y="333.20" font-size="12.6" text-anchor="start" font-weight="bold" font-family='"Liberation Serif", serif' fill="#000" >Current Density (mA cm<tspan dy="-4.5" font-size="8.5">-2</tspan><tspan dy="4.5">)</tspan></text>
<path d="M293.9,184 H309.5" stroke="#808000" stroke-width="1.3"/><rect x="299.8" y="182.4" width="3.2" height="3.2" fill="#808000"/>
<text x="311.90" y="186.80" font-size="9.9" text-anchor="start" font-weight="bold" font-family='"Liberation Serif", serif' fill="#808000" >F-NiMoO<tspan dy="2" font-size="6.3">4-x</tspan><tspan dy="-2">@CFC//AC@CFC</tspan></text>
<path d="M293.5,206.2 L316,236.7 L353.3,254.5 L390.9,268.9 L428.5,277.4" fill="none" stroke="#808000" stroke-width="1.3"/>
<rect x="291.8" y="204.5" width="3.4" height="3.4" fill="#808000"/>
<rect x="314.3" y="235.0" width="3.4" height="3.4" fill="#808000"/>
<rect x="351.6" y="252.8" width="3.4" height="3.4" fill="#808000"/>
<rect x="389.2" y="267.2" width="3.4" height="3.4" fill="#808000"/>
<rect x="426.8" y="275.7" width="3.4" height="3.4" fill="#808000"/>
<rect x="278.5" y="172.8" width="164.7" height="131.8" fill="none" stroke="#000" stroke-width="1.3"/>
<text x="454.60" y="185.50" font-size="17" text-anchor="start" font-weight="bold" font-family='"Liberation Sans", sans-serif' fill="#000" >f</text>
<path d="M500.30,307.0 v2.8 M534.76,307.0 v2.8 M569.22,307.0 v2.8 M603.68,307.0 v2.8 M638.14,307.0 v2.8 M672.60,307.0 v2.8 M517.53,307.0 v1.6 M551.99,307.0 v1.6 M586.45,307.0 v1.6 M620.91,307.0 v1.6 M655.37,307.0 v1.6 " stroke="#000" stroke-width="1"/>
<text x="500.30" y="319.00" font-size="9.8" text-anchor="middle" font-weight="bold" font-family='"Liberation Serif", serif' fill="#000" >0</text>
<text x="534.76" y="319.00" font-size="9.8" text-anchor="middle" font-weight="bold" font-family='"Liberation Serif", serif' fill="#000" >2000</text>
<text x="569.22" y="319.00" font-size="9.8" text-anchor="middle" font-weight="bold" font-family='"Liberation Serif", serif' fill="#000" >4000</text>
<text x="603.68" y="319.00" font-size="9.8" text-anchor="middle" font-weight="bold" font-family='"Liberation Serif", serif' fill="#000" >6000</text>
<text x="638.14" y="319.00" font-size="9.8" text-anchor="middle" font-weight="bold" font-family='"Liberation Serif", serif' fill="#000" >8000</text>
<text x="672.60" y="319.00" font-size="9.8" text-anchor="middle" font-weight="bold" font-family='"Liberation Serif", serif' fill="#000" >10000</text>
<path d="M499.5,306.70 h-2.8 M499.5,282.68 h-2.8 M499.5,258.66 h-2.8 M499.5,234.64 h-2.8 M499.5,210.62 h-2.8 M499.5,186.60 h-2.8 M499.5,294.69 h-1.6 M499.5,270.67 h-1.6 M499.5,246.65 h-1.6 M499.5,222.63 h-1.6 M499.5,198.61 h-1.6 " stroke="#000" stroke-width="1"/>
<text x="494.80" y="310.10" font-size="9.8" text-anchor="end" font-weight="bold" font-family='"Liberation Serif", serif' fill="#000" >0</text>
<text x="494.80" y="286.08" font-size="9.8" text-anchor="end" font-weight="bold" font-family='"Liberation Serif", serif' fill="#000" >20</text>
<text x="494.80" y="262.06" font-size="9.8" text-anchor="end" font-weight="bold" font-family='"Liberation Serif", serif' fill="#000" >40</text>
<text x="494.80" y="238.04" font-size="9.8" text-anchor="end" font-weight="bold" font-family='"Liberation Serif", serif' fill="#000" >60</text>
<text x="494.80" y="214.02" font-size="9.8" text-anchor="end" font-weight="bold" font-family='"Liberation Serif", serif' fill="#000" >80</text>
<text x="494.80" y="190.00" font-size="9.8" text-anchor="end" font-weight="bold" font-family='"Liberation Serif", serif' fill="#000" >100</text>
<text transform="translate(476.20,240.80) rotate(-90)" x="0" y="0" font-size="12.7" text-anchor="middle" font-weight="bold" font-family='"Liberation Serif", serif'>Capacitance retention(%)</text>
<text x="582.60" y="333.50" font-size="12.6" text-anchor="middle" font-weight="bold" font-family='"Liberation Serif", serif' fill="#000" >Cycles number</text>
<path d="M500.30,186.60 C501.92,186.60 506.72,186.63 510.00,186.60 C513.28,186.57 517.17,186.37 520.00,186.40 C522.83,186.43 524.50,186.60 527.00,186.80 C529.50,187.00 532.22,187.40 535.00,187.60 C537.78,187.80 540.87,187.73 543.70,188.00 C546.53,188.27 549.05,188.83 552.00,189.20 C554.95,189.57 558.73,189.90 561.40,190.20 C564.07,190.50 565.28,190.72 568.00,191.00 C570.72,191.28 574.70,191.57 577.70,191.90 C580.70,192.23 583.03,192.55 586.00,193.00 C588.97,193.45 592.50,194.10 595.50,194.60 C598.50,195.10 601.05,195.55 604.00,196.00 C606.95,196.45 610.20,196.97 613.20,197.30 C616.20,197.63 619.05,197.80 622.00,198.00 C624.95,198.20 628.57,198.23 630.90,198.50 C633.23,198.77 634.22,199.17 636.00,199.60 C637.78,200.03 639.43,200.70 641.60,201.10 C643.77,201.50 646.35,201.75 649.00,202.00 C651.65,202.25 654.83,202.40 657.50,202.60 C660.17,202.80 662.48,202.98 665.00,203.20 C667.52,203.42 671.33,203.78 672.60,203.90" fill="none" stroke="#138a13" stroke-width="2.0" stroke-linejoin="round" stroke-linecap="round" />
<text x="536.60" y="216.20" font-size="7.8" text-anchor="start" font-weight="bold" font-family='"Liberation Serif", serif' fill="#138a13" >F-NiMoO<tspan dy="1.8" font-size="5.2">4-x</tspan><tspan dy="-1.8">@CFC//AC@CFC</tspan></text>
<text x="638.40" y="227.00" font-size="9.3" text-anchor="start" font-weight="bold" font-family='"Liberation Serif", serif' fill="#138a13" >85.7%</text>
<text x="601.40" y="285.20" font-size="12.6" text-anchor="start" font-weight="bold" font-family='"Liberation Serif", serif' fill="#000" >25 mA cm<tspan dy="-5" font-size="9">-2</tspan></text>
<rect x="511.2" y="229.3" width="56.400000000000034" height="37.89999999999998" fill="#fff" stroke="#555" stroke-width="0.5"/>
<path d="M511.40,267.2 C511.74,245.10 513.30,233.10 514.20,233.10000000000002 C514.87,233.10 516.55,253.20 517.11,267.2 M517.30,267.2 C517.64,245.10 519.20,233.10 520.10,233.10000000000002 C520.77,233.10 522.45,253.20 523.01,267.2 M522.60,267.2 C522.94,245.10 524.50,233.10 525.40,233.10000000000002 C526.07,233.10 527.75,253.20 528.31,267.2 M528.20,267.2 C528.54,245.10 530.10,233.10 531.00,233.10000000000002 C531.67,233.10 533.35,253.20 533.91,267.2 M533.60,267.2 C533.94,245.10 535.50,233.10 536.40,233.10000000000002 C537.07,233.10 538.75,253.20 539.31,267.2 M539.20,267.2 C539.54,245.10 541.10,233.10 542.00,233.10000000000002 C542.67,233.10 544.35,253.20 544.91,267.2 M544.50,267.2 C544.84,245.10 546.40,233.10 547.30,233.10000000000002 C547.97,233.10 549.65,253.20 550.21,267.2 M550.00,267.2 C550.34,245.10 551.90,233.10 552.80,233.10000000000002 C553.47,233.10 555.15,253.20 555.71,267.2 M555.70,267.2 C556.04,245.10 557.60,233.10 558.50,233.10000000000002 C559.17,233.10 560.85,253.20 561.41,267.2 M561.60,267.2 C561.94,245.10 563.50,233.10 564.40,233.10000000000002 C565.07,233.10 566.75,253.20 567.31,267.2 " fill="none" stroke="#ffa965" stroke-width="0.6"/>
<text x="510.40" y="268.40" font-size="3.2" text-anchor="end" font-weight="bold" font-family='"Liberation Serif", serif' fill="#555" >0.0</text>
<text x="510.40" y="260.82" font-size="3.2" text-anchor="end" font-weight="bold" font-family='"Liberation Serif", serif' fill="#555" >0.4</text>
<text x="510.40" y="253.24" font-size="3.2" text-anchor="end" font-weight="bold" font-family='"Liberation Serif", serif' fill="#555" >0.8</text>
<text x="510.40" y="245.66" font-size="3.2" text-anchor="end" font-weight="bold" font-family='"Liberation Serif", serif' fill="#555" >1.2</text>
<text x="510.40" y="238.08" font-size="3.2" text-anchor="end" font-weight="bold" font-family='"Liberation Serif", serif' fill="#555" >1.6</text>
<text x="510.40" y="230.50" font-size="3.2" text-anchor="end" font-weight="bold" font-family='"Liberation Serif", serif' fill="#555" >2.0</text>
<text x="511.20" y="271.40" font-size="3.2" text-anchor="middle" font-weight="bold" font-family='"Liberation Serif", serif' fill="#555" >0</text>
<text x="520.60" y="271.40" font-size="3.2" text-anchor="middle" font-weight="bold" font-family='"Liberation Serif", serif' fill="#555" >50</text>
<text x="530.00" y="271.40" font-size="3.2" text-anchor="middle" font-weight="bold" font-family='"Liberation Serif", serif' fill="#555" >100</text>
<text x="539.40" y="271.40" font-size="3.2" text-anchor="middle" font-weight="bold" font-family='"Liberation Serif", serif' fill="#555" >150</text>
<text x="548.80" y="271.40" font-size="3.2" text-anchor="middle" font-weight="bold" font-family='"Liberation Serif", serif' fill="#555" >200</text>
<text x="558.20" y="271.40" font-size="3.2" text-anchor="middle" font-weight="bold" font-family='"Liberation Serif", serif' fill="#555" >250</text>
<text x="567.60" y="271.40" font-size="3.2" text-anchor="middle" font-weight="bold" font-family='"Liberation Serif", serif' fill="#555" >300</text>
<text x="539.40" y="275.20" font-size="4.2" text-anchor="middle" font-weight="bold" font-family='"Liberation Serif", serif' fill="#555" >Time (s)</text>
<text transform="translate(504.2,248.25) rotate(-90)" font-size="3.6" text-anchor="middle" font-weight="bold" font-family='"Liberation Serif", serif' fill="#555">Potential (V vs Hg/HgO)</text>
<path d="M545.6,231.5 h3" stroke="#ffa965" stroke-width="0.6"/>
<text x="549.10" y="232.70" font-size="3.4" text-anchor="start" font-weight="normal" font-family='"Liberation Serif", serif' fill="#666" >First ten cycles</text>
<rect x="589.3" y="229.0" width="50.30000000000007" height="38.0" fill="#fff" stroke="#555" stroke-width="0.5"/>
<path d="M588.95,267.0 C589.24,244.80 590.62,232.80 591.40,232.8 C591.99,232.80 593.46,253.00 593.95,267.0 M594.25,267.0 C594.54,244.80 595.92,232.80 596.70,232.8 C597.29,232.80 598.76,253.00 599.25,267.0 M599.25,267.0 C599.54,244.80 600.92,232.80 601.70,232.8 C602.29,232.80 603.76,253.00 604.25,267.0 M603.95,267.0 C604.24,244.80 605.62,232.80 606.40,232.8 C606.99,232.80 608.46,253.00 608.95,267.0 M608.45,267.0 C608.74,244.80 610.12,232.80 610.90,232.8 C611.49,232.80 612.96,253.00 613.45,267.0 M613.55,267.0 C613.84,244.80 615.22,232.80 616.00,232.8 C616.59,232.80 618.06,253.00 618.55,267.0 M618.15,267.0 C618.44,244.80 619.82,232.80 620.60,232.8 C621.19,232.80 622.66,253.00 623.15,267.0 M623.05,267.0 C623.34,244.80 624.72,232.80 625.50,232.8 C626.09,232.80 627.56,253.00 628.05,267.0 M627.75,267.0 C628.04,244.80 629.42,232.80 630.20,232.8 C630.79,232.80 632.26,253.00 632.75,267.0 M632.75,267.0 C633.04,244.80 634.42,232.80 635.20,232.8 C635.79,232.80 637.26,253.00 637.75,267.0 " fill="none" stroke="#b8b878" stroke-width="0.6"/>
<text x="588.50" y="268.20" font-size="3.2" text-anchor="end" font-weight="bold" font-family='"Liberation Serif", serif' fill="#555" >0.0</text>
<text x="588.50" y="260.60" font-size="3.2" text-anchor="end" font-weight="bold" font-family='"Liberation Serif", serif' fill="#555" >0.4</text>
<text x="588.50" y="253.00" font-size="3.2" text-anchor="end" font-weight="bold" font-family='"Liberation Serif", serif' fill="#555" >0.8</text>
<text x="588.50" y="245.40" font-size="3.2" text-anchor="end" font-weight="bold" font-family='"Liberation Serif", serif' fill="#555" >1.2</text>
<text x="588.50" y="237.80" font-size="3.2" text-anchor="end" font-weight="bold" font-family='"Liberation Serif", serif' fill="#555" >1.6</text>
<text x="588.50" y="230.20" font-size="3.2" text-anchor="end" font-weight="bold" font-family='"Liberation Serif", serif' fill="#555" >2.0</text>
<text x="589.30" y="271.20" font-size="3.2" text-anchor="middle" font-weight="bold" font-family='"Liberation Serif", serif' fill="#555" >199440</text>
<text x="606.07" y="271.20" font-size="3.2" text-anchor="middle" font-weight="bold" font-family='"Liberation Serif", serif' fill="#555" >199520</text>
<text x="622.83" y="271.20" font-size="3.2" text-anchor="middle" font-weight="bold" font-family='"Liberation Serif", serif' fill="#555" >199600</text>
<text x="639.60" y="271.20" font-size="3.2" text-anchor="middle" font-weight="bold" font-family='"Liberation Serif", serif' fill="#555" >199680</text>
<text x="614.45" y="275.00" font-size="4.2" text-anchor="middle" font-weight="bold" font-family='"Liberation Serif", serif' fill="#555" >Time (s)</text>
<text transform="translate(582.5,248.0) rotate(-90)" font-size="3.6" text-anchor="middle" font-weight="bold" font-family='"Liberation Serif", serif' fill="#555">Potential (V vs Hg/HgO)</text>
<path d="M617.6,231.2 h3" stroke="#b8b878" stroke-width="0.6"/>
<text x="621.10" y="232.40" font-size="3.4" text-anchor="start" font-weight="normal" font-family='"Liberation Serif", serif' fill="#666" >Last ten cycles</text>
<rect x="499.5" y="174.7" width="173.89999999999998" height="132.3" fill="none" stroke="#000" stroke-width="1.3"/>
<text x="0.40" y="358.20" font-size="17" text-anchor="start" font-weight="bold" font-family='"Liberation Sans", sans-serif' fill="#000" >g</text>
<path d="M52.30,476.0 v2.8 M73.91,476.0 v2.8 M95.52,476.0 v2.8 M117.14,476.0 v2.8 M138.75,476.0 v2.8 M160.36,476.0 v2.8 M181.97,476.0 v2.8 M203.59,476.0 v2.8 M225.20,476.0 v2.8 M63.11,476.0 v1.6 M84.72,476.0 v1.6 M106.33,476.0 v1.6 M127.94,476.0 v1.6 M149.56,476.0 v1.6 M171.17,476.0 v1.6 M192.78,476.0 v1.6 M214.39,476.0 v1.6 " stroke="#000" stroke-width="1"/>
<text x="52.30" y="488.60" font-size="9.4" text-anchor="middle" font-weight="bold" font-family='"Liberation Serif", serif' fill="#000" >0</text>
<text x="73.91" y="488.60" font-size="9.4" text-anchor="middle" font-weight="bold" font-family='"Liberation Serif", serif' fill="#000" >5</text>
<text x="95.52" y="488.60" font-size="9.4" text-anchor="middle" font-weight="bold" font-family='"Liberation Serif", serif' fill="#000" >10</text>
<text x="117.14" y="488.60" font-size="9.4" text-anchor="middle" font-weight="bold" font-family='"Liberation Serif", serif' fill="#000" >15</text>
<text x="138.75" y="488.60" font-size="9.4" text-anchor="middle" font-weight="bold" font-family='"Liberation Serif", serif' fill="#000" >20</text>
<text x="160.36" y="488.60" font-size="9.4" text-anchor="middle" font-weight="bold" font-family='"Liberation Serif", serif' fill="#000" >25</text>
<text x="181.97" y="488.60" font-size="9.4" text-anchor="middle" font-weight="bold" font-family='"Liberation Serif", serif' fill="#000" >30</text>
<text x="203.59" y="488.60" font-size="9.4" text-anchor="middle" font-weight="bold" font-family='"Liberation Serif", serif' fill="#000" >35</text>
<text x="225.20" y="488.60" font-size="9.4" text-anchor="middle" font-weight="bold" font-family='"Liberation Serif", serif' fill="#000" >40</text>
<path d="M52.3,475.60 h-2.8 M52.3,457.97 h-2.8 M52.3,440.34 h-2.8 M52.3,422.71 h-2.8 M52.3,405.09 h-2.8 M52.3,387.46 h-2.8 M52.3,369.83 h-2.8 M52.3,352.20 h-2.8 M52.3,466.79 h-1.6 M52.3,449.16 h-1.6 M52.3,431.53 h-1.6 M52.3,413.90 h-1.6 M52.3,396.27 h-1.6 M52.3,378.64 h-1.6 M52.3,361.01 h-1.6 " stroke="#000" stroke-width="1"/>
<text x="47.80" y="478.90" font-size="9.4" text-anchor="end" font-weight="bold" font-family='"Liberation Serif", serif' fill="#000" >0</text>
<text x="47.80" y="461.27" font-size="9.4" text-anchor="end" font-weight="bold" font-family='"Liberation Serif", serif' fill="#000" >5</text>
<text x="47.80" y="443.64" font-size="9.4" text-anchor="end" font-weight="bold" font-family='"Liberation Serif", serif' fill="#000" >10</text>
<text x="47.80" y="426.01" font-size="9.4" text-anchor="end" font-weight="bold" font-family='"Liberation Serif", serif' fill="#000" >15</text>
<text x="47.80" y="408.39" font-size="9.4" text-anchor="end" font-weight="bold" font-family='"Liberation Serif", serif' fill="#000" >20</text>
<text x="47.80" y="390.76" font-size="9.4" text-anchor="end" font-weight="bold" font-family='"Liberation Serif", serif' fill="#000" >25</text>
<text x="47.80" y="373.13" font-size="9.4" text-anchor="end" font-weight="bold" font-family='"Liberation Serif", serif' fill="#000" >30</text>
<text x="47.80" y="355.50" font-size="9.4" text-anchor="end" font-weight="bold" font-family='"Liberation Serif", serif' fill="#000" >35</text>
<text transform="translate(30.50,401.50) rotate(-90)" x="0" y="0" font-size="12.7" text-anchor="middle" font-weight="bold" font-family='"Liberation Serif", serif'>-Z&apos;&apos; (ohm)</text>
<text x="133.20" y="504.20" font-size="12.6" text-anchor="middle" font-weight="bold" font-family='"Liberation Serif", serif' fill="#000" >Z&apos; (ohm&#8201;)</text>
<path d="M56.4,356.6 H77.7" stroke="#ff8000" stroke-width="1.2"/><rect x="65" y="355.1" width="3" height="3" fill="#ff8000"/>
<path d="M56.4,369.9 H77.7" stroke="#808000" stroke-width="1.2"/><rect x="65" y="368.4" width="3" height="3" fill="#808000"/>
<text x="81.90" y="360.20" font-size="9.6" text-anchor="start" font-weight="bold" font-family='"Liberation Serif", serif' fill="#000" >cycle before</text>
<text x="80.10" y="373.40" font-size="9.6" text-anchor="start" font-weight="bold" font-family='"Liberation Serif", serif' fill="#000" >after 5000 cycles</text>
<path d="M59.5,403.3 H71.9 M71.9,403.3 L74.3,405.4 L76.7,401.2 L79.1,405.4 L81.5,401.2 L83.9,405.4 L86.3,403.3 M86.3,403.3 H104 M104.0,403.3 L106.5,405.4 L109.1,401.2 L111.6,405.4 L114.1,401.2 L116.7,405.4 L119.2,403.3 M119.2,403.3 H134.3 M141.2,403.3 H158.6 M98.4,403.3 V414.4 H107.3 M113.8,414.4 H124.4 V403.3" fill="none" stroke="#1a1a1a" stroke-width="0.85" stroke-linejoin="miter"/>
<path d="M107.3,412.0 l2.6,2.4 l-2.6,2.4 M110.6,412.0 l2.6,2.4 l-2.6,2.4 M113.2,414.4 H113.8" fill="none" stroke="#1a1a1a" stroke-width="0.75"/>
<path d="M134.3,403.3 l1.1,1.9 l1.15,-2.1 l1.15,2.1 l1.15,-2.1 l1.15,2.1 l1.0,-1.9" fill="none" stroke="#1a1a1a" stroke-width="0.6"/>
<circle cx="98.4" cy="403.3" r="1.5" fill="#000"/>
<text x="79.10" y="399.60" font-size="4.0" text-anchor="middle" font-weight="bold" font-family='"Liberation Sans", sans-serif' fill="#222" >Rs</text>
<text x="111.60" y="399.60" font-size="4.0" text-anchor="middle" font-weight="bold" font-family='"Liberation Sans", sans-serif' fill="#222" >Rp</text>
<text x="111.40" y="410.90" font-size="4.0" text-anchor="middle" font-weight="bold" font-family='"Liberation Sans", sans-serif' fill="#222" >CPE1</text>
<text x="137.60" y="399.60" font-size="4.0" text-anchor="middle" font-weight="bold" font-family='"Liberation Sans", sans-serif' fill="#222" >Wo1</text>
<text x="137.60" y="406.90" font-size="2.8" text-anchor="middle" font-weight="normal" font-family='"Liberation Sans", sans-serif' fill="#444" >Wo1</text>
<path d="M56.50,475.80 C56.62,475.37 56.92,474.13 57.20,473.20 C57.48,472.27 57.83,471.17 58.20,470.20 C58.57,469.23 58.97,468.33 59.40,467.40 C59.83,466.47 60.33,465.53 60.80,464.60 C61.27,463.67 61.73,462.70 62.20,461.80 C62.67,460.90 63.08,460.07 63.60,459.20 C64.12,458.33 64.70,457.47 65.30,456.60 C65.90,455.73 66.55,454.83 67.20,454.00 C67.85,453.17 68.50,452.37 69.20,451.60 C69.90,450.83 70.63,450.13 71.40,449.40 C72.17,448.67 72.93,447.93 73.80,447.20 C74.67,446.47 75.57,445.80 76.60,445.00 C77.63,444.20 78.87,443.20 80.00,442.40 C81.13,441.60 82.23,440.90 83.40,440.20 C84.57,439.50 85.70,438.83 87.00,438.20 C88.30,437.57 89.70,436.97 91.20,436.40 C92.70,435.83 94.20,435.33 96.00,434.80 C97.80,434.27 100.00,433.67 102.00,433.20 C104.00,432.73 105.92,432.33 108.00,432.00 C110.08,431.67 112.35,431.40 114.50,431.20 C116.65,431.00 118.73,430.80 120.90,430.80 C123.07,430.80 125.35,430.95 127.50,431.20 C129.65,431.45 131.72,431.95 133.80,432.30 C135.88,432.65 137.78,432.85 140.00,433.30 C142.22,433.75 144.67,434.27 147.10,435.00 C149.53,435.73 152.05,436.73 154.60,437.70 C157.15,438.67 160.32,439.70 162.40,440.80 C164.48,441.90 165.53,443.12 167.10,444.30 C168.67,445.48 170.22,446.63 171.80,447.90 C173.38,449.17 175.02,450.53 176.60,451.90 C178.18,453.27 179.98,455.03 181.30,456.10 C182.62,457.17 183.52,457.78 184.50,458.30 C185.48,458.82 186.42,459.22 187.20,459.20 C187.98,459.18 188.67,458.82 189.20,458.20 C189.73,457.58 190.15,456.23 190.40,455.50 C190.65,454.77 190.53,455.07 190.70,453.80 C190.87,452.53 191.20,449.67 191.40,447.90 C191.60,446.13 191.73,444.78 191.90,443.20 C192.07,441.62 192.20,440.18 192.40,438.40 C192.60,436.62 192.80,434.65 193.10,432.50 C193.40,430.35 193.82,428.05 194.20,425.50 C194.58,422.95 194.88,420.27 195.40,417.20 C195.92,414.13 196.43,410.63 197.30,407.10 C198.17,403.57 199.33,400.22 200.60,396.00 C201.87,391.78 203.40,386.80 204.90,381.80 C206.40,376.80 208.82,368.63 209.60,366.00" fill="none" stroke="#808000" stroke-width="1.2" stroke-linejoin="round" stroke-linecap="round" />
<rect x="55.05" y="474.35" width="2.9" height="2.9" fill="#808000"/>
<rect x="55.75" y="471.75" width="2.9" height="2.9" fill="#808000"/>
<rect x="56.75" y="468.75" width="2.9" height="2.9" fill="#808000"/>
<rect x="57.95" y="465.95" width="2.9" height="2.9" fill="#808000"/>
<rect x="59.35" y="463.15" width="2.9" height="2.9" fill="#808000"/>
<rect x="60.75" y="460.35" width="2.9" height="2.9" fill="#808000"/>
<rect x="62.15" y="457.75" width="2.9" height="2.9" fill="#808000"/>
<rect x="63.85" y="455.15" width="2.9" height="2.9" fill="#808000"/>
<rect x="65.75" y="452.55" width="2.9" height="2.9" fill="#808000"/>
<rect x="67.75" y="450.15" width="2.9" height="2.9" fill="#808000"/>
<rect x="69.95" y="447.95" width="2.9" height="2.9" fill="#808000"/>
<rect x="72.35" y="445.75" width="2.9" height="2.9" fill="#808000"/>
<rect x="75.15" y="443.55" width="2.9" height="2.9" fill="#808000"/>
<rect x="78.55" y="440.95" width="2.9" height="2.9" fill="#808000"/>
<rect x="81.95" y="438.75" width="2.9" height="2.9" fill="#808000"/>
<rect x="85.55" y="436.75" width="2.9" height="2.9" fill="#808000"/>
<rect x="89.75" y="434.95" width="2.9" height="2.9" fill="#808000"/>
<rect x="94.55" y="433.35" width="2.9" height="2.9" fill="#808000"/>
<rect x="100.55" y="431.75" width="2.9" height="2.9" fill="#808000"/>
<rect x="106.55" y="430.55" width="2.9" height="2.9" fill="#808000"/>
<rect x="113.05" y="429.75" width="2.9" height="2.9" fill="#808000"/>
<rect x="119.45" y="429.35" width="2.9" height="2.9" fill="#808000"/>
<rect x="126.05" y="429.75" width="2.9" height="2.9" fill="#808000"/>
<rect x="132.35" y="430.85" width="2.9" height="2.9" fill="#808000"/>
<rect x="138.55" y="431.85" width="2.9" height="2.9" fill="#808000"/>
<rect x="145.65" y="433.55" width="2.9" height="2.9" fill="#808000"/>
<rect x="153.15" y="436.25" width="2.9" height="2.9" fill="#808000"/>
<rect x="160.95" y="439.35" width="2.9" height="2.9" fill="#808000"/>
<rect x="165.65" y="442.85" width="2.9" height="2.9" fill="#808000"/>
<rect x="170.35" y="446.45" width="2.9" height="2.9" fill="#808000"/>
<rect x="175.15" y="450.45" width="2.9" height="2.9" fill="#808000"/>
<rect x="179.85" y="454.65" width="2.9" height="2.9" fill="#808000"/>
<rect x="183.05" y="456.85" width="2.9" height="2.9" fill="#808000"/>
<rect x="185.75" y="457.75" width="2.9" height="2.9" fill="#808000"/>
<rect x="187.75" y="456.75" width="2.9" height="2.9" fill="#808000"/>
<rect x="188.95" y="454.05" width="2.9" height="2.9" fill="#808000"/>
<rect x="189.25" y="452.35" width="2.9" height="2.9" fill="#808000"/>
<rect x="189.95" y="446.45" width="2.9" height="2.9" fill="#808000"/>
<rect x="190.45" y="441.75" width="2.9" height="2.9" fill="#808000"/>
<rect x="190.95" y="436.95" width="2.9" height="2.9" fill="#808000"/>
<rect x="191.65" y="431.05" width="2.9" height="2.9" fill="#808000"/>
<rect x="192.75" y="424.05" width="2.9" height="2.9" fill="#808000"/>
<rect x="193.95" y="415.75" width="2.9" height="2.9" fill="#808000"/>
<rect x="195.85" y="405.65" width="2.9" height="2.9" fill="#808000"/>
<rect x="199.15" y="394.55" width="2.9" height="2.9" fill="#808000"/>
<rect x="203.45" y="380.35" width="2.9" height="2.9" fill="#808000"/>
<rect x="208.15" y="364.55" width="2.9" height="2.9" fill="#808000"/>
<path d="M56.50,475.80 C56.58,475.50 56.82,474.63 57.00,474.00 C57.18,473.37 57.38,472.67 57.60,472.00 C57.82,471.33 58.05,470.67 58.30,470.00 C58.55,469.33 58.82,468.67 59.10,468.00 C59.38,467.33 59.68,466.65 60.00,466.00 C60.32,465.35 60.63,464.73 61.00,464.10 C61.37,463.47 61.78,462.82 62.20,462.20 C62.62,461.58 63.03,460.98 63.50,460.40 C63.97,459.82 64.47,459.27 65.00,458.70 C65.53,458.13 66.10,457.55 66.70,457.00 C67.30,456.45 67.90,455.92 68.60,455.40 C69.30,454.88 70.08,454.43 70.90,453.90 C71.72,453.37 72.58,452.75 73.50,452.20 C74.42,451.65 75.35,451.08 76.40,450.60 C77.45,450.12 78.62,449.70 79.80,449.30 C80.98,448.90 81.95,448.62 83.50,448.20 C85.05,447.78 87.15,447.18 89.10,446.80 C91.05,446.42 93.05,446.10 95.20,445.90 C97.35,445.70 99.80,445.58 102.00,445.60 C104.20,445.62 106.38,445.73 108.40,446.00 C110.42,446.27 112.27,446.73 114.10,447.20 C115.93,447.67 117.75,448.25 119.40,448.80 C121.05,449.35 122.60,449.90 124.00,450.50 C125.40,451.10 126.58,451.73 127.80,452.40 C129.02,453.07 130.18,453.77 131.30,454.50 C132.42,455.23 133.48,456.05 134.50,456.80 C135.52,457.55 136.48,458.32 137.40,459.00 C138.32,459.68 139.18,460.35 140.00,460.90 C140.82,461.45 141.58,461.93 142.30,462.30 C143.02,462.67 143.68,462.93 144.30,463.10 C144.92,463.27 145.42,463.33 146.00,463.30 C146.58,463.27 147.23,463.12 147.80,462.90 C148.37,462.68 148.87,462.40 149.40,462.00 C149.93,461.60 150.47,461.07 151.00,460.50 C151.53,459.93 152.07,459.32 152.60,458.60 C153.13,457.88 153.55,457.33 154.20,456.20 C154.85,455.07 155.72,453.37 156.50,451.80 C157.28,450.23 158.03,448.67 158.90,446.80 C159.77,444.93 160.53,442.98 161.70,440.60 C162.87,438.22 164.65,434.95 165.90,432.50 C167.15,430.05 167.97,428.25 169.20,425.90 C170.43,423.55 171.95,421.15 173.30,418.40 C174.65,415.65 175.65,412.67 177.30,409.40 C178.95,406.13 181.17,402.60 183.20,398.80 C185.23,395.00 187.15,391.00 189.50,386.60 C191.85,382.20 194.47,377.43 197.30,372.40 C200.13,367.37 204.97,359.07 206.50,356.40" fill="none" stroke="#ff8000" stroke-width="1.2" stroke-linejoin="round" stroke-linecap="round" />
<rect x="55.05" y="474.35" width="2.9" height="2.9" fill="#ff8000"/>
<rect x="55.55" y="472.55" width="2.9" height="2.9" fill="#ff8000"/>
<rect x="56.15" y="470.55" width="2.9" height="2.9" fill="#ff8000"/>
<rect x="56.85" y="468.55" width="2.9" height="2.9" fill="#ff8000"/>
<rect x="57.65" y="466.55" width="2.9" height="2.9" fill="#ff8000"/>
<rect x="58.55" y="464.55" width="2.9" height="2.9" fill="#ff8000"/>
<rect x="59.55" y="462.65" width="2.9" height="2.9" fill="#ff8000"/>
<rect x="60.75" y="460.75" width="2.9" height="2.9" fill="#ff8000"/>
<rect x="62.05" y="458.95" width="2.9" height="2.9" fill="#ff8000"/>
<rect x="63.55" y="457.25" width="2.9" height="2.9" fill="#ff8000"/>
<rect x="65.25" y="455.55" width="2.9" height="2.9" fill="#ff8000"/>
<rect x="67.15" y="453.95" width="2.9" height="2.9" fill="#ff8000"/>
<rect x="69.45" y="452.45" width="2.9" height="2.9" fill="#ff8000"/>
<rect x="72.05" y="450.75" width="2.9" height="2.9" fill="#ff8000"/>
<rect x="74.95" y="449.15" width="2.9" height="2.9" fill="#ff8000"/>
<rect x="78.35" y="447.85" width="2.9" height="2.9" fill="#ff8000"/>
<rect x="82.05" y="446.75" width="2.9" height="2.9" fill="#ff8000"/>
<rect x="87.65" y="445.35" width="2.9" height="2.9" fill="#ff8000"/>
<rect x="93.75" y="444.45" width="2.9" height="2.9" fill="#ff8000"/>
<rect x="100.55" y="444.15" width="2.9" height="2.9" fill="#ff8000"/>
<rect x="106.95" y="444.55" width="2.9" height="2.9" fill="#ff8000"/>
<rect x="112.65" y="445.75" width="2.9" height="2.9" fill="#ff8000"/>
<rect x="117.95" y="447.35" width="2.9" height="2.9" fill="#ff8000"/>
<rect x="122.55" y="449.05" width="2.9" height="2.9" fill="#ff8000"/>
<rect x="126.35" y="450.95" width="2.9" height="2.9" fill="#ff8000"/>
<rect x="129.85" y="453.05" width="2.9" height="2.9" fill="#ff8000"/>
<rect x="133.05" y="455.35" width="2.9" height="2.9" fill="#ff8000"/>
<rect x="135.95" y="457.55" width="2.9" height="2.9" fill="#ff8000"/>
<rect x="138.55" y="459.45" width="2.9" height="2.9" fill="#ff8000"/>
<rect x="140.85" y="460.85" width="2.9" height="2.9" fill="#ff8000"/>
<rect x="142.85" y="461.65" width="2.9" height="2.9" fill="#ff8000"/>
<rect x="144.55" y="461.85" width="2.9" height="2.9" fill="#ff8000"/>
<rect x="146.35" y="461.45" width="2.9" height="2.9" fill="#ff8000"/>
<rect x="147.95" y="460.55" width="2.9" height="2.9" fill="#ff8000"/>
<rect x="149.55" y="459.05" width="2.9" height="2.9" fill="#ff8000"/>
<rect x="151.15" y="457.15" width="2.9" height="2.9" fill="#ff8000"/>
<rect x="152.75" y="454.75" width="2.9" height="2.9" fill="#ff8000"/>
<rect x="155.05" y="450.35" width="2.9" height="2.9" fill="#ff8000"/>
<rect x="157.45" y="445.35" width="2.9" height="2.9" fill="#ff8000"/>
<rect x="160.25" y="439.15" width="2.9" height="2.9" fill="#ff8000"/>
<rect x="164.45" y="431.05" width="2.9" height="2.9" fill="#ff8000"/>
<rect x="167.75" y="424.45" width="2.9" height="2.9" fill="#ff8000"/>
<rect x="171.85" y="416.95" width="2.9" height="2.9" fill="#ff8000"/>
<rect x="175.85" y="407.95" width="2.9" height="2.9" fill="#ff8000"/>
<rect x="181.75" y="397.35" width="2.9" height="2.9" fill="#ff8000"/>
<rect x="188.05" y="385.15" width="2.9" height="2.9" fill="#ff8000"/>
<rect x="195.85" y="370.95" width="2.9" height="2.9" fill="#ff8000"/>
<rect x="205.05" y="354.95" width="2.9" height="2.9" fill="#ff8000"/>
<rect x="52.3" y="343.9" width="172.10000000000002" height="132.10000000000002" fill="none" stroke="#000" stroke-width="1.3"/>
<text x="230.80" y="358.10" font-size="17" text-anchor="start" font-weight="bold" font-family='"Liberation Sans", sans-serif' fill="#000" >h</text>
<path d="M282.90,476.1 v2.8 M308.93,476.1 v2.8 M334.97,476.1 v2.8 M361.00,476.1 v2.8 M387.03,476.1 v2.8 M413.07,476.1 v2.8 M439.10,476.1 v2.8 M295.92,476.1 v1.6 M321.95,476.1 v1.6 M347.98,476.1 v1.6 M374.02,476.1 v1.6 M400.05,476.1 v1.6 M426.08,476.1 v1.6 " stroke="#000" stroke-width="1"/>
<text x="282.90" y="489.00" font-size="9.4" text-anchor="middle" font-weight="bold" font-family='"Liberation Serif", serif' fill="#000" >0.0</text>
<text x="308.93" y="489.00" font-size="9.4" text-anchor="middle" font-weight="bold" font-family='"Liberation Serif", serif' fill="#000" >0.3</text>
<text x="334.97" y="489.00" font-size="9.4" text-anchor="middle" font-weight="bold" font-family='"Liberation Serif", serif' fill="#000" >0.6</text>
<text x="361.00" y="489.00" font-size="9.4" text-anchor="middle" font-weight="bold" font-family='"Liberation Serif", serif' fill="#000" >0.9</text>
<text x="387.03" y="489.00" font-size="9.4" text-anchor="middle" font-weight="bold" font-family='"Liberation Serif", serif' fill="#000" >1.2</text>
<text x="413.07" y="489.00" font-size="9.4" text-anchor="middle" font-weight="bold" font-family='"Liberation Serif", serif' fill="#000" >1.5</text>
<text x="439.10" y="489.00" font-size="9.4" text-anchor="middle" font-weight="bold" font-family='"Liberation Serif", serif' fill="#000" >1.8</text>
<path d="M274.3,476.10 h-2.8 M274.3,454.13 h-2.8 M274.3,432.17 h-2.8 M274.3,410.20 h-2.8 M274.3,388.23 h-2.8 M274.3,366.27 h-2.8 M274.3,344.30 h-2.8 M274.3,465.12 h-1.6 M274.3,443.15 h-1.6 M274.3,421.18 h-1.6 M274.3,399.22 h-1.6 M274.3,377.25 h-1.6 M274.3,355.28 h-1.6 " stroke="#000" stroke-width="1"/>
<text x="269.40" y="479.40" font-size="9.4" text-anchor="end" font-weight="bold" font-family='"Liberation Serif", serif' fill="#000" >-30</text>
<text x="269.40" y="457.43" font-size="9.4" text-anchor="end" font-weight="bold" font-family='"Liberation Serif", serif' fill="#000" >-20</text>
<text x="269.40" y="435.47" font-size="9.4" text-anchor="end" font-weight="bold" font-family='"Liberation Serif", serif' fill="#000" >-10</text>
<text x="269.40" y="413.50" font-size="9.4" text-anchor="end" font-weight="bold" font-family='"Liberation Serif", serif' fill="#000" >0</text>
<text x="269.40" y="391.53" font-size="9.4" text-anchor="end" font-weight="bold" font-family='"Liberation Serif", serif' fill="#000" >10</text>
<text x="269.40" y="369.57" font-size="9.4" text-anchor="end" font-weight="bold" font-family='"Liberation Serif", serif' fill="#000" >20</text>
<text x="269.40" y="347.60" font-size="9.4" text-anchor="end" font-weight="bold" font-family='"Liberation Serif", serif' fill="#000" >30</text>
<text transform="translate(252.90,412.80) rotate(-90)" x="0" y="0" font-size="12.6" text-anchor="middle" font-weight="bold" font-family='"Liberation Serif", serif'>Current density (mA cm<tspan dy="-4.8" font-size="8.5">-2</tspan><tspan dy="4.8">)</tspan></text>
<text x="361.20" y="504.20" font-size="12.6" text-anchor="middle" font-weight="bold" font-family='"Liberation Serif", serif' fill="#000" >Potential (V)</text>
<path d="M283.90,432.90 C284.53,432.10 285.62,430.07 287.70,428.10 C289.78,426.13 292.63,423.13 296.40,421.10 C300.17,419.07 305.10,417.25 310.30,415.90 C315.50,414.55 321.83,413.77 327.60,413.00 C333.37,412.23 340.85,411.97 344.90,411.30 C348.95,410.63 349.00,410.40 351.90,409.00 C354.80,407.60 358.98,404.70 362.30,402.90 C365.62,401.10 368.33,400.38 371.80,398.20 C375.27,396.02 380.28,391.67 383.10,389.80 C385.92,387.93 386.20,388.25 388.70,387.00 C391.20,385.75 393.42,384.80 398.10,382.30 C402.78,379.80 411.18,375.12 416.80,372.00 C422.42,368.88 428.00,365.85 431.80,363.60 C435.60,361.35 438.98,358.18 439.60,358.50 C440.22,358.82 437.43,362.62 435.50,365.50 C433.57,368.38 431.12,371.90 428.00,375.80 C424.88,379.70 421.17,384.23 416.80,388.90 C412.43,393.57 406.48,399.43 401.80,403.80 C397.12,408.17 393.07,411.67 388.70,415.10 C384.33,418.53 380.00,421.00 375.60,424.40 C371.20,427.80 366.55,432.43 362.30,435.50 C358.05,438.57 353.57,440.72 350.10,442.80 C346.63,444.88 343.80,446.93 341.50,448.00 C339.20,449.07 339.20,449.20 336.30,449.20 C333.40,449.20 328.43,448.72 324.10,448.00 C319.77,447.28 314.05,446.05 310.30,444.90 C306.55,443.75 304.50,442.47 301.60,441.10 C298.70,439.73 295.85,438.07 292.90,436.70 C289.95,435.33 285.40,433.53 283.90,432.90" fill="none" stroke="#2a9a2a" stroke-width="1.5" stroke-linejoin="round" stroke-linecap="round" />
<path d="M283.40,432.20 C284.03,431.40 285.12,429.37 287.20,427.40 C289.28,425.43 292.13,422.43 295.90,420.40 C299.67,418.37 304.60,416.55 309.80,415.20 C315.00,413.85 321.33,413.07 327.10,412.30 C332.87,411.53 340.35,411.27 344.40,410.60 C348.45,409.93 348.50,409.70 351.40,408.30 C354.30,406.90 358.48,404.00 361.80,402.20 C365.12,400.40 367.83,399.68 371.30,397.50 C374.77,395.32 379.78,390.97 382.60,389.10 C385.42,387.23 385.70,387.55 388.20,386.30 C390.70,385.05 392.92,384.10 397.60,381.60 C402.28,379.10 410.68,374.42 416.30,371.30 C421.92,368.18 427.50,365.15 431.30,362.90 C435.10,360.65 438.48,357.48 439.10,357.80 C439.72,358.12 436.93,361.92 435.00,364.80 C433.07,367.68 430.62,371.20 427.50,375.10 C424.38,379.00 420.67,383.53 416.30,388.20 C411.93,392.87 405.98,398.73 401.30,403.10 C396.62,407.47 392.57,410.97 388.20,414.40 C383.83,417.83 379.50,420.30 375.10,423.70 C370.70,427.10 366.05,431.73 361.80,434.80 C357.55,437.87 353.07,440.02 349.60,442.10 C346.13,444.18 343.30,446.23 341.00,447.30 C338.70,448.37 338.70,448.50 335.80,448.50 C332.90,448.50 327.93,448.02 323.60,447.30 C319.27,446.58 313.55,445.35 309.80,444.20 C306.05,443.05 304.00,441.77 301.10,440.40 C298.20,439.03 295.35,437.37 292.40,436.00 C289.45,434.63 284.90,432.83 283.40,432.20" fill="none" stroke="#a040b0" stroke-width="1.4" stroke-linejoin="round" stroke-linecap="round" />
<path d="M283.00,431.60 C283.63,430.80 284.72,428.77 286.80,426.80 C288.88,424.83 291.73,421.83 295.50,419.80 C299.27,417.77 304.20,415.95 309.40,414.60 C314.60,413.25 320.93,412.47 326.70,411.70 C332.47,410.93 339.95,410.67 344.00,410.00 C348.05,409.33 348.10,409.10 351.00,407.70 C353.90,406.30 358.08,403.40 361.40,401.60 C364.72,399.80 367.43,399.08 370.90,396.90 C374.37,394.72 379.38,390.37 382.20,388.50 C385.02,386.63 385.30,386.95 387.80,385.70 C390.30,384.45 392.52,383.50 397.20,381.00 C401.88,378.50 410.28,373.82 415.90,370.70 C421.52,367.58 427.10,364.55 430.90,362.30 C434.70,360.05 438.08,356.88 438.70,357.20 C439.32,357.52 436.53,361.32 434.60,364.20 C432.67,367.08 430.22,370.60 427.10,374.50 C423.98,378.40 420.27,382.93 415.90,387.60 C411.53,392.27 405.58,398.13 400.90,402.50 C396.22,406.87 392.17,410.37 387.80,413.80 C383.43,417.23 379.10,419.70 374.70,423.10 C370.30,426.50 365.65,431.13 361.40,434.20 C357.15,437.27 352.67,439.42 349.20,441.50 C345.73,443.58 342.90,445.63 340.60,446.70 C338.30,447.77 338.30,447.90 335.40,447.90 C332.50,447.90 327.53,447.42 323.20,446.70 C318.87,445.98 313.15,444.75 309.40,443.60 C305.65,442.45 303.60,441.17 300.70,439.80 C297.80,438.43 294.95,436.77 292.00,435.40 C289.05,434.03 284.50,432.23 283.00,431.60" fill="none" stroke="#ff8000" stroke-width="1.4" stroke-linejoin="round" stroke-linecap="round" />
<path d="M404.2,441 H416.6" stroke="#a040b0" stroke-width="1.4"/>
<text x="416.60" y="442.40" font-size="12.2" text-anchor="start" font-weight="bold" font-family='"Liberation Serif", serif' fill="#000" >0°</text>
<path d="M404.2,456.3 H416.6" stroke="#ff8000" stroke-width="1.4"/>
<text x="419.60" y="458.00" font-size="12.2" text-anchor="start" font-weight="bold" font-family='"Liberation Serif", serif' fill="#000" >60°</text>
<path d="M404.2,471.6 H416.6" stroke="#3a9a4a" stroke-width="1.4"/>
<text x="420.20" y="473.40" font-size="12.2" text-anchor="start" font-weight="bold" font-family='"Liberation Serif", serif' fill="#000" >120°</text>
<text x="299.30" y="467.60" font-size="12.6" text-anchor="start" font-weight="bold" font-family='"Liberation Serif", serif' fill="#000" >50 mV s<tspan dy="-5" font-size="9">-1</tspan></text>
<filter id="pblur" x="-5%" y="-5%" width="110%" height="110%"><feGaussianBlur stdDeviation="0.35"/></filter>
<clipPath id="ph1"><rect x="277.9" y="349.1" width="47.8" height="33.6"/></clipPath>
<clipPath id="ph2"><rect x="277.9" y="383.2" width="47.8" height="18.4"/></clipPath>
<g clip-path="url(#ph1)"><g filter="url(#pblur)">
<rect x="277.9" y="349.1" width="47.8" height="33.6" fill="#d2d0ca"/>
<polygon points="277.9,349.1 325.7,349.1 325.7,366 312,361.5 300,357.5 292,356.5 284,358 277.9,358.5" fill="#262626"/>
<polygon points="298,356.5 325.7,354.5 325.7,366 312,361.5" fill="#0e0e0e"/>
<path d="M283,349 L281.5,357 M293,349 L290,357 M291,357 C300,356 310,356 318,354" stroke="#777" stroke-width="0.5" fill="none"/>
<polygon points="277.9,366 292,362 310,366 325.7,368 325.7,383 277.9,383" fill="#dcdbd6"/>
<rect x="292" y="371" width="16" height="12" fill="#b9b8b2"/>
<ellipse cx="318" cy="351.5" rx="10" ry="3.3" fill="#3cc493"/>
<ellipse cx="313" cy="355.3" rx="6" ry="1.3" fill="#3cc493"/>
<ellipse cx="284" cy="361.5" rx="7.5" ry="4.2" fill="#3cc493"/>
<path d="M278,364 C282,362 286,361.5 290,360" stroke="#1f8a68" stroke-width="0.8" fill="none"/>
<ellipse cx="287" cy="359.5" rx="3" ry="1.2" fill="#f05a28"/>
<ellipse cx="286" cy="378.5" rx="10" ry="5" fill="#3cc493"/>
<path d="M278,377 C283,375 289,376 294,378 M279,381 C284,379 289,380 293,382" stroke="#1f8a68" stroke-width="0.8" fill="none"/>
<rect x="290.5" y="374.5" width="3.8" height="7.5" rx="1.2" fill="#8a20a8"/>
<ellipse cx="318" cy="376.5" rx="11" ry="7" fill="#3cc493"/>
<path d="M308,373 C313,372 319,372 325,371 M309,378 C314,377 320,377 325,376" stroke="#1f8a68" stroke-width="0.8" fill="none"/>
<path d="M293.5,374 C294,370.5 297,369.3 301,369.8 C304,370.2 306,371 306.5,372" fill="none" stroke="#2e2e2e" stroke-width="1.5"/>
</g></g><g clip-path="url(#ph2)"><g filter="url(#pblur)">
<rect x="277.9" y="383.2" width="47.8" height="18.4" fill="#e6e3da"/>
<rect x="300" y="390" width="9" height="11.6" fill="#c4c1b9"/>
<ellipse cx="289" cy="398.5" rx="13.5" ry="5" fill="#3cc493"/>
<path d="M278,397 C284,395 292,395 301,396.5 M279,400.5 C286,399 294,399 301,400" stroke="#1f8a68" stroke-width="0.8" fill="none"/>
<ellipse cx="317.5" cy="395" rx="10.5" ry="7" fill="#3cc493"/>
<path d="M308,392 C313,391 319,390.5 325,390.5 M309,397 C314,396 320,396 325,396" stroke="#1f8a68" stroke-width="0.8" fill="none"/>
<rect x="299.3" y="395" width="2.8" height="5.5" rx="1" fill="#8a20a8"/>
<path d="M300.5,393.5 C300.5,390 302,388.6 304.5,388.6 C306.5,388.6 308,390 308.2,392" fill="none" stroke="#2e2e2e" stroke-width="1.5"/>
</g></g>
<rect x="274.3" y="344.3" width="173.5" height="131.8" fill="none" stroke="#000" stroke-width="1.3"/>
<text x="455.00" y="357.90" font-size="17" text-anchor="start" font-weight="bold" font-family='"Liberation Sans", sans-serif' fill="#000" >i</text>
<path d="M515.34,343.7 V475.5 M524.02,343.7 V475.5 M530.18,343.7 V475.5 M534.96,343.7 V475.5 M538.86,343.7 V475.5 M542.16,343.7 V475.5 M545.02,343.7 V475.5 M547.54,343.7 V475.5 M549.80,343.7 V475.5 M564.64,343.7 V475.5 M573.32,343.7 V475.5 M579.48,343.7 V475.5 M584.26,343.7 V475.5 M588.16,343.7 V475.5 M591.46,343.7 V475.5 M594.32,343.7 V475.5 M596.84,343.7 V475.5 M599.10,343.7 V475.5 M613.94,343.7 V475.5 M622.62,343.7 V475.5 M628.78,343.7 V475.5 M633.56,343.7 V475.5 M637.46,343.7 V475.5 M640.76,343.7 V475.5 M643.62,343.7 V475.5 M646.14,343.7 V475.5 M648.40,343.7 V475.5 M663.24,343.7 V475.5 M671.92,343.7 V475.5 M500.5,453.95 H673.5 M500.5,441.34 H673.5 M500.5,432.39 H673.5 M500.5,425.45 H673.5 M500.5,419.78 H673.5 M500.5,414.99 H673.5 M500.5,410.84 H673.5 M500.5,407.18 H673.5 M500.5,403.90 H673.5 M500.5,382.35 H673.5 M500.5,369.74 H673.5 M500.5,360.79 H673.5 M500.5,353.85 H673.5 M500.5,348.18 H673.5 " stroke="#ececec" stroke-width="0.55"/>
<text x="500.50" y="488.40" font-size="9.4" text-anchor="middle" font-weight="bold" font-family='"Liberation Serif", serif' fill="#000" >1</text>
<text x="549.80" y="488.40" font-size="9.4" text-anchor="middle" font-weight="bold" font-family='"Liberation Serif", serif' fill="#000" >10</text>
<text x="599.10" y="488.40" font-size="9.4" text-anchor="middle" font-weight="bold" font-family='"Liberation Serif", serif' fill="#000" >100</text>
<text x="648.40" y="488.40" font-size="9.4" text-anchor="middle" font-weight="bold" font-family='"Liberation Serif", serif' fill="#000" >1000</text>
<text x="495.60" y="478.80" font-size="9.4" text-anchor="end" font-weight="bold" font-family='"Liberation Serif", serif' fill="#000" >1</text>
<text x="495.60" y="407.20" font-size="9.4" text-anchor="end" font-weight="bold" font-family='"Liberation Serif", serif' fill="#000" >10</text>
<text transform="translate(481.40,402.80) rotate(-90)" x="0" y="0" font-size="12.6" text-anchor="middle" font-weight="bold" font-family='"Liberation Serif", serif'>Energy density (Wh kg<tspan dy="-4.8" font-size="8.5">-1</tspan><tspan dy="4.8">)</tspan></text>
<text x="523.20" y="500.40" font-size="12.0" text-anchor="start" font-weight="bold" font-family='"Liberation Serif", serif' fill="#000" >Power density (W kg<tspan dy="-4.5" font-size="8.2">-1</tspan><tspan dy="4.5">)</tspan></text>
<path d="M620.40,353.40 C621.75,354.42 625.27,357.50 628.50,359.50 C631.73,361.50 635.67,362.85 639.80,365.40 C643.93,367.95 649.25,371.57 653.30,374.80 C657.35,378.03 661.33,381.47 664.10,384.80 C666.87,388.13 668.93,393.13 669.90,394.80" fill="none" stroke="#dc1f40" stroke-width="1.2" stroke-linejoin="round" stroke-linecap="round" />
<polygon points="620.40,350.60 621.14,352.38 623.06,352.53 621.60,353.79 622.05,355.67 620.40,354.66 618.75,355.67 619.20,353.79 617.74,352.53 619.66,352.38" fill="#dc1f40"/>
<polygon points="639.80,362.60 640.54,364.38 642.46,364.53 641.00,365.79 641.45,367.67 639.80,366.66 638.15,367.67 638.60,365.79 637.14,364.53 639.06,364.38" fill="#dc1f40"/>
<polygon points="653.30,372.00 654.04,373.78 655.96,373.93 654.50,375.19 654.95,377.07 653.30,376.06 651.65,377.07 652.10,375.19 650.64,373.93 652.56,373.78" fill="#dc1f40"/>
<polygon points="664.10,382.00 664.84,383.78 666.76,383.93 665.30,385.19 665.75,387.07 664.10,386.06 662.45,387.07 662.90,385.19 661.44,383.93 663.36,383.78" fill="#dc1f40"/>
<polygon points="669.90,392.00 670.64,393.78 672.56,393.93 671.10,395.19 671.55,397.07 669.90,396.06 668.25,397.07 668.70,395.19 667.24,393.93 669.16,393.78" fill="#dc1f40"/>
<polygon points="628.50,356.70 629.24,358.48 631.16,358.63 629.70,359.89 630.15,361.77 628.50,360.76 626.85,361.77 627.30,359.89 625.84,358.63 627.76,358.48" fill="#ff8a20"/>
<polygon points="617.40,364.30 618.14,366.08 620.06,366.23 618.60,367.49 619.05,369.37 617.40,368.36 615.75,369.37 616.20,367.49 614.74,366.23 616.66,366.08" fill="#802080"/>
<polygon points="620.00,368.60 620.74,370.38 622.66,370.53 621.20,371.79 621.65,373.67 620.00,372.66 618.35,373.67 618.80,371.79 617.34,370.53 619.26,370.38" fill="#101080"/>
<polygon points="638.50,369.90 639.24,371.68 641.16,371.83 639.70,373.09 640.15,374.97 638.50,373.96 636.85,374.97 637.30,373.09 635.84,371.83 637.76,371.68" fill="#2030e0"/>
<polygon points="622.30,378.20 623.04,379.98 624.96,380.13 623.50,381.39 623.95,383.27 622.30,382.26 620.65,383.27 621.10,381.39 619.64,380.13 621.56,379.98" fill="#209020"/>
<path d="M504.2,398.6 H525.3" stroke="#dc1f40" stroke-width="1.3"/>
<polygon points="514.60,395.80 515.34,397.58 517.26,397.73 515.80,398.99 516.25,400.87 514.60,399.86 512.95,400.87 513.40,398.99 511.94,397.73 513.86,397.58" fill="#dc1f40"/>
<text x="525.50" y="401.30" font-size="7.2" text-anchor="start" font-weight="bold" font-family='"Liberation Serif", serif' fill="#000" >This work</text>
<polygon points="514.60,408.10 515.34,409.88 517.26,410.03 515.80,411.29 516.25,413.17 514.60,412.16 512.95,413.17 513.40,411.29 511.94,410.03 513.86,409.88" fill="#2030e0"/>
<text x="525.70" y="413.70" font-size="7.2" text-anchor="start" font-weight="bold" font-family='"Liberation Serif", serif' fill="#000" >NiMoO<tspan dy="1.9" font-size="5.6">4</tspan><tspan dy="-1.9">-CoMoO<tspan dy="1.9" font-size="5.6">4</tspan><tspan dy="-1.9">NSAs//G-ink</tspan></tspan></text>
<polygon points="514.60,420.80 515.34,422.58 517.26,422.73 515.80,423.99 516.25,425.87 514.60,424.86 512.95,425.87 513.40,423.99 511.94,422.73 513.86,422.58" fill="#802080"/>
<text x="525.70" y="426.30" font-size="7.2" text-anchor="start" font-weight="bold" font-family='"Liberation Serif", serif' fill="#000" >NiMoO<tspan dy="1.9" font-size="5.6">4</tspan><tspan dy="-1.9">-PANI//AC</tspan></text>
<polygon points="514.60,434.30 515.34,436.08 517.26,436.23 515.80,437.49 516.25,439.37 514.60,438.36 512.95,439.37 513.40,437.49 511.94,436.23 513.86,436.08" fill="#101080"/>
<text x="527.40" y="439.90" font-size="7.2" text-anchor="start" font-weight="bold" font-family='"Liberation Serif", serif' fill="#000" >CoMoO<tspan dy="1.9" font-size="5.6">4</tspan><tspan dy="-1.9">@NiMoO<tspan dy="1.9" font-size="5.6">4</tspan><tspan dy="-1.9">//AC</tspan></tspan></text>
<polygon points="514.60,447.50 515.34,449.28 517.26,449.43 515.80,450.69 516.25,452.57 514.60,451.56 512.95,452.57 513.40,450.69 511.94,449.43 513.86,449.28" fill="#ff8a20"/>
<text x="527.40" y="452.90" font-size="7.2" text-anchor="start" font-weight="bold" font-family='"Liberation Serif", serif' fill="#000" >CoNi-LDH-350P@CFC//AC</text>
<polygon points="514.60,459.40 515.34,461.18 517.26,461.33 515.80,462.59 516.25,464.47 514.60,463.46 512.95,464.47 513.40,462.59 511.94,461.33 513.86,461.18" fill="#209020"/>
<text x="527.40" y="465.10" font-size="7.2" text-anchor="start" font-weight="bold" font-family='"Liberation Serif", serif' fill="#000" >Ni<tspan dy="1.9" font-size="5.6">0.85</tspan><tspan dy="-1.9">Co<tspan dy="1.9" font-size="5.6">0.15</tspan><tspan dy="-1.9">MoO<tspan dy="1.9" font-size="5.6">4</tspan><tspan dy="-1.9">//AC</tspan></tspan></tspan></text>
<rect x="500.5" y="343.7" width="173.0" height="131.8" fill="none" stroke="#000" stroke-width="1.3"/>
</svg></body></html>
